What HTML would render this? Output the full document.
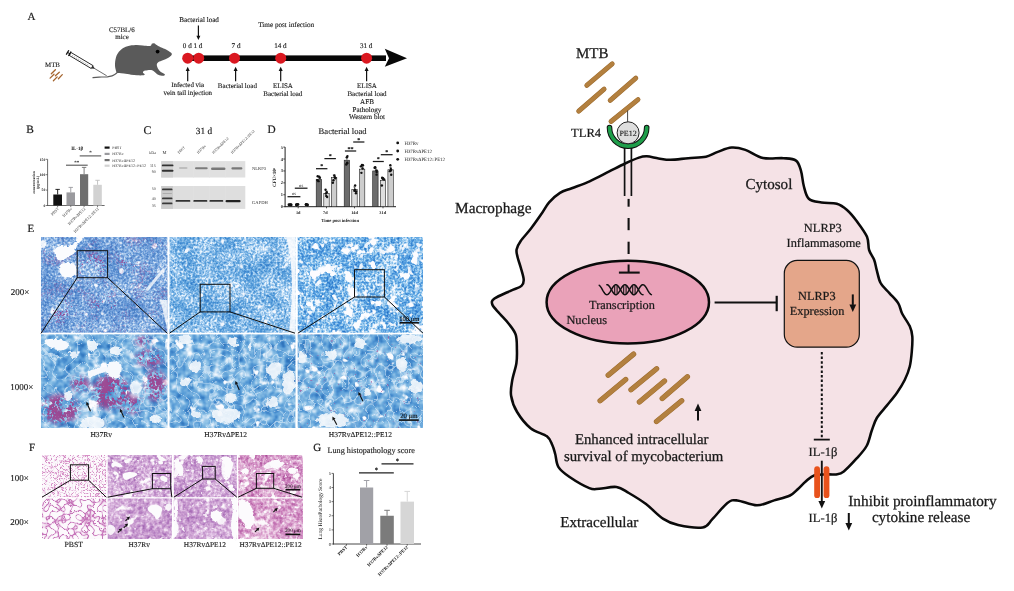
<!DOCTYPE html>
<html><head><meta charset="utf-8"><title>Figure</title><style>html,body{margin:0;padding:0;background:#fff;}body{width:1014px;height:591px;overflow:hidden;}svg{display:block;will-change:transform;text-rendering:geometricPrecision;}</style></head><body>
<svg width="1014" height="591" viewBox="0 0 1014 591" font-family="'Liberation Serif', 'Times New Roman', serif"><defs><filter id="bb" x="-20%" y="-100%" width="140%" height="300%"><feGaussianBlur stdDeviation="0.45"/></filter><filter id="soft" x="-20%" y="-20%" width="140%" height="140%"><feGaussianBlur stdDeviation="0.6"/></filter><filter id="rough2" x="-10%" y="-10%" width="120%" height="120%" color-interpolation-filters="sRGB"><feTurbulence type="fractalNoise" baseFrequency="0.3" numOctaves="2" seed="9" result="t"/><feDisplacementMap in="SourceGraphic" in2="t" scale="3.5" xChannelSelector="R" yChannelSelector="G" result="d"/><feGaussianBlur in="d" stdDeviation="0.35"/></filter><filter id="mblur" x="-20%" y="-20%" width="140%" height="140%"><feGaussianBlur stdDeviation="2.5"/></filter><filter id="tf1" x="0" y="0" width="1" height="1" color-interpolation-filters="sRGB"><feTurbulence type="fractalNoise" baseFrequency="0.05" numOctaves="2" seed="3" result="a0"/><feColorMatrix in="a0" type="matrix" values="1 0 0 0 0 1 0 0 0 0 1 0 0 0 0 0 0 0 0 1" result="a"/><feTurbulence type="fractalNoise" baseFrequency="0.45" numOctaves="2" seed="14" result="b0"/><feColorMatrix in="b0" type="matrix" values="1 0 0 0 0 1 0 0 0 0 1 0 0 0 0 0 0 0 0 1" result="b"/><feComposite in="a" in2="b" operator="arithmetic" k1="0" k2="0.45" k3="0.8" k4="-0.12" result="m"/><feComponentTransfer in="m"><feFuncR type="table" tableValues="0.2 0.22 0.26 0.31 0.38 0.48 0.61 0.76 0.9 0.97 1"/><feFuncG type="table" tableValues="0.39 0.42 0.46 0.52 0.58 0.65 0.75 0.85 0.93 0.98 1"/><feFuncB type="table" tableValues="0.71 0.73 0.76 0.79 0.83 0.87 0.91 0.95 0.98 1 1"/><feFuncA type="linear" slope="0" intercept="1"/></feComponentTransfer></filter><filter id="sf2" x="0" y="0" width="1" height="1" color-interpolation-filters="sRGB"><feTurbulence type="fractalNoise" baseFrequency="0.12" numOctaves="2" seed="71"/><feColorMatrix type="matrix" values="0 0 0 0 0.99 0 0 0 0 0.99 0 0 0 0 1 9 0 0 0 -6.3"/></filter><filter id="tf3" x="0" y="0" width="1" height="1" color-interpolation-filters="sRGB"><feTurbulence type="fractalNoise" baseFrequency="0.05" numOctaves="2" seed="8" result="a0"/><feColorMatrix in="a0" type="matrix" values="1 0 0 0 0 1 0 0 0 0 1 0 0 0 0 0 0 0 0 1" result="a"/><feTurbulence type="fractalNoise" baseFrequency="0.45" numOctaves="2" seed="19" result="b0"/><feColorMatrix in="b0" type="matrix" values="1 0 0 0 0 1 0 0 0 0 1 0 0 0 0 0 0 0 0 1" result="b"/><feComposite in="a" in2="b" operator="arithmetic" k1="0" k2="0.45" k3="0.8" k4="-0.11" result="m"/><feComponentTransfer in="m"><feFuncR type="table" tableValues="0.16 0.18 0.22 0.27 0.36 0.49 0.67 0.85 0.96 0.99 1"/><feFuncG type="table" tableValues="0.44 0.46 0.5 0.56 0.63 0.71 0.82 0.92 0.98 1 1"/><feFuncB type="table" tableValues="0.75 0.77 0.8 0.83 0.86 0.9 0.95 0.98 1 1 1"/><feFuncA type="linear" slope="0" intercept="1"/></feComponentTransfer></filter><filter id="sf4" x="0" y="0" width="1" height="1" color-interpolation-filters="sRGB"><feTurbulence type="fractalNoise" baseFrequency="0.11" numOctaves="2" seed="73"/><feColorMatrix type="matrix" values="0 0 0 0 0.99 0 0 0 0 0.99 0 0 0 0 1 10 0 0 0 -7"/></filter><filter id="tf5" x="0" y="0" width="1" height="1" color-interpolation-filters="sRGB"><feTurbulence type="fractalNoise" baseFrequency="0.05" numOctaves="2" seed="21" result="a0"/><feColorMatrix in="a0" type="matrix" values="1 0 0 0 0 1 0 0 0 0 1 0 0 0 0 0 0 0 0 1" result="a"/><feTurbulence type="fractalNoise" baseFrequency="0.45" numOctaves="2" seed="32" result="b0"/><feColorMatrix in="b0" type="matrix" values="1 0 0 0 0 1 0 0 0 0 1 0 0 0 0 0 0 0 0 1" result="b"/><feComposite in="a" in2="b" operator="arithmetic" k1="0" k2="0.45" k3="0.8" k4="-0.12" result="m"/><feComponentTransfer in="m"><feFuncR type="table" tableValues="0.11 0.13 0.16 0.23 0.32 0.46 0.67 0.87 0.96 0.99 1"/><feFuncG type="table" tableValues="0.39 0.42 0.46 0.53 0.61 0.71 0.83 0.93 0.98 1 1"/><feFuncB type="table" tableValues="0.75 0.76 0.79 0.83 0.87 0.91 0.95 0.98 1 1 1"/><feFuncA type="linear" slope="0" intercept="1"/></feComponentTransfer></filter><filter id="sf6" x="0" y="0" width="1" height="1" color-interpolation-filters="sRGB"><feTurbulence type="fractalNoise" baseFrequency="0.09" numOctaves="3" seed="75"/><feColorMatrix type="matrix" values="0 0 0 0 0.99 0 0 0 0 0.99 0 0 0 0 1 12 0 0 0 -7.1"/></filter><filter id="sf7" x="0" y="0" width="1" height="1" color-interpolation-filters="sRGB"><feTurbulence type="fractalNoise" baseFrequency="0.14" numOctaves="2" seed="76"/><feColorMatrix type="matrix" values="0 0 0 0 0.99 0 0 0 0 0.99 0 0 0 0 1 10 0 0 0 -6.3"/></filter><mask id="m1" maskUnits="userSpaceOnUse" x="41" y="237" width="127" height="96"><rect x="41" y="237" width="127" height="96" fill="#555"/><g filter="url(#mblur)" fill="#fff"><ellipse cx="93" cy="265" rx="14" ry="10"/><ellipse cx="60" cy="310" rx="14" ry="12"/><ellipse cx="130" cy="262" rx="10" ry="8"/><ellipse cx="105" cy="305" rx="12" ry="9"/></g></mask><filter id="sp8" x="0" y="0" width="1" height="1" color-interpolation-filters="sRGB"><feTurbulence type="fractalNoise" baseFrequency="0.06" numOctaves="2" seed="5" result="a0"/><feColorMatrix in="a0" type="matrix" values="1 0 0 0 0 1 0 0 0 0 1 0 0 0 0 0 0 0 0 1" result="a"/><feTurbulence type="fractalNoise" baseFrequency="0.55" numOctaves="2" seed="10" result="b0"/><feColorMatrix in="b0" type="matrix" values="1 0 0 0 0 1 0 0 0 0 1 0 0 0 0 0 0 0 0 1" result="b"/><feComposite in="a" in2="b" operator="arithmetic" k1="0" k2="0.5" k3="0.6" k4="0" result="m"/><feColorMatrix in="m" type="matrix" values="0 0 0 0 0.59 0 0 0 0 0.27 0 0 0 0 0.57 10 0 0 0 -6.2"/></filter><filter id="tf9" x="0" y="0" width="1" height="1" color-interpolation-filters="sRGB"><feTurbulence type="fractalNoise" baseFrequency="0.04" numOctaves="2" seed="13" result="a0"/><feColorMatrix in="a0" type="matrix" values="1 0 0 0 0 1 0 0 0 0 1 0 0 0 0 0 0 0 0 1" result="a"/><feTurbulence type="fractalNoise" baseFrequency="0.14" numOctaves="2" seed="24" result="b0"/><feColorMatrix in="b0" type="matrix" values="1 0 0 0 0 1 0 0 0 0 1 0 0 0 0 0 0 0 0 1" result="b"/><feComposite in="a" in2="b" operator="arithmetic" k1="0" k2="0.5" k3="1.1" k4="-0.3" result="m"/><feComponentTransfer in="m"><feFuncR type="table" tableValues="0.16 0.19 0.24 0.3 0.37 0.45 0.54 0.66 0.8 0.93 1"/><feFuncG type="table" tableValues="0.42 0.46 0.51 0.57 0.63 0.68 0.75 0.81 0.89 0.96 1"/><feFuncB type="table" tableValues="0.71 0.74 0.78 0.82 0.85 0.87 0.9 0.93 0.96 0.99 1"/><feFuncA type="linear" slope="0" intercept="1"/></feComponentTransfer></filter><filter id="cn10" x="0" y="0" width="1" height="1" color-interpolation-filters="sRGB"><feTurbulence type="turbulence" baseFrequency="0.09" numOctaves="1" seed="35"/><feColorMatrix type="matrix" values="0 0 0 0 0.92 0 0 0 0 0.96 0 0 0 0 0.99 -8.33 0 0 0 0.5"/></filter><filter id="sf11" x="0" y="0" width="1" height="1" color-interpolation-filters="sRGB"><feTurbulence type="fractalNoise" baseFrequency="0.08" numOctaves="3" seed="81"/><feColorMatrix type="matrix" values="0 0 0 0 0.99 0 0 0 0 0.99 0 0 0 0 1 10 0 0 0 -6.9"/></filter><mask id="m4" maskUnits="userSpaceOnUse" x="41" y="334" width="127" height="94"><g filter="url(#mblur)" fill="#fff"><ellipse cx="111" cy="392" rx="19" ry="17"/><ellipse cx="60" cy="409" rx="19" ry="14"/><ellipse cx="150" cy="358" rx="14" ry="8"/><ellipse cx="155" cy="385" rx="10" ry="16"/><ellipse cx="143" cy="341" rx="8" ry="4"/><ellipse cx="80" cy="384" rx="9" ry="7"/><ellipse cx="133" cy="405" rx="10" ry="8"/></g></mask><filter id="sp12" x="0" y="0" width="1" height="1" color-interpolation-filters="sRGB"><feTurbulence type="fractalNoise" baseFrequency="0.08" numOctaves="2" seed="17" result="a0"/><feColorMatrix in="a0" type="matrix" values="1 0 0 0 0 1 0 0 0 0 1 0 0 0 0 0 0 0 0 1" result="a"/><feTurbulence type="fractalNoise" baseFrequency="0.4" numOctaves="2" seed="22" result="b0"/><feColorMatrix in="b0" type="matrix" values="1 0 0 0 0 1 0 0 0 0 1 0 0 0 0 0 0 0 0 1" result="b"/><feComposite in="a" in2="b" operator="arithmetic" k1="0" k2="0.55" k3="0.55" k4="0" result="m"/><feColorMatrix in="m" type="matrix" values="0 0 0 0 0.61 0 0 0 0 0.27 0 0 0 0 0.57 9 0 0 0 -4.3"/></filter><filter id="tf13" x="0" y="0" width="1" height="1" color-interpolation-filters="sRGB"><feTurbulence type="fractalNoise" baseFrequency="0.04" numOctaves="2" seed="29" result="a0"/><feColorMatrix in="a0" type="matrix" values="1 0 0 0 0 1 0 0 0 0 1 0 0 0 0 0 0 0 0 1" result="a"/><feTurbulence type="fractalNoise" baseFrequency="0.14" numOctaves="2" seed="40" result="b0"/><feColorMatrix in="b0" type="matrix" values="1 0 0 0 0 1 0 0 0 0 1 0 0 0 0 0 0 0 0 1" result="b"/><feComposite in="a" in2="b" operator="arithmetic" k1="0" k2="0.5" k3="1.1" k4="-0.3" result="m"/><feComponentTransfer in="m"><feFuncR type="table" tableValues="0.16 0.19 0.24 0.3 0.37 0.45 0.54 0.66 0.8 0.93 1"/><feFuncG type="table" tableValues="0.42 0.46 0.51 0.57 0.63 0.68 0.75 0.81 0.89 0.96 1"/><feFuncB type="table" tableValues="0.71 0.74 0.78 0.82 0.85 0.87 0.9 0.93 0.96 0.99 1"/><feFuncA type="linear" slope="0" intercept="1"/></feComponentTransfer></filter><filter id="cn14" x="0" y="0" width="1" height="1" color-interpolation-filters="sRGB"><feTurbulence type="turbulence" baseFrequency="0.09" numOctaves="1" seed="31"/><feColorMatrix type="matrix" values="0 0 0 0 0.92 0 0 0 0 0.96 0 0 0 0 0.99 -8.33 0 0 0 0.5"/></filter><filter id="sf15" x="0" y="0" width="1" height="1" color-interpolation-filters="sRGB"><feTurbulence type="fractalNoise" baseFrequency="0.08" numOctaves="3" seed="83"/><feColorMatrix type="matrix" values="0 0 0 0 0.99 0 0 0 0 0.99 0 0 0 0 1 10 0 0 0 -6.8"/></filter><filter id="tf16" x="0" y="0" width="1" height="1" color-interpolation-filters="sRGB"><feTurbulence type="fractalNoise" baseFrequency="0.04" numOctaves="2" seed="37" result="a0"/><feColorMatrix in="a0" type="matrix" values="1 0 0 0 0 1 0 0 0 0 1 0 0 0 0 0 0 0 0 1" result="a"/><feTurbulence type="fractalNoise" baseFrequency="0.14" numOctaves="2" seed="48" result="b0"/><feColorMatrix in="b0" type="matrix" values="1 0 0 0 0 1 0 0 0 0 1 0 0 0 0 0 0 0 0 1" result="b"/><feComposite in="a" in2="b" operator="arithmetic" k1="0" k2="0.5" k3="1.1" k4="-0.3" result="m"/><feComponentTransfer in="m"><feFuncR type="table" tableValues="0.16 0.19 0.24 0.3 0.37 0.45 0.54 0.66 0.8 0.93 1"/><feFuncG type="table" tableValues="0.42 0.46 0.51 0.57 0.63 0.68 0.75 0.81 0.89 0.96 1"/><feFuncB type="table" tableValues="0.71 0.74 0.78 0.82 0.85 0.87 0.9 0.93 0.96 0.99 1"/><feFuncA type="linear" slope="0" intercept="1"/></feComponentTransfer></filter><filter id="cn17" x="0" y="0" width="1" height="1" color-interpolation-filters="sRGB"><feTurbulence type="turbulence" baseFrequency="0.09" numOctaves="1" seed="33"/><feColorMatrix type="matrix" values="0 0 0 0 0.92 0 0 0 0 0.96 0 0 0 0 0.99 -8.33 0 0 0 0.5"/></filter><filter id="sf18" x="0" y="0" width="1" height="1" color-interpolation-filters="sRGB"><feTurbulence type="fractalNoise" baseFrequency="0.08" numOctaves="3" seed="85"/><feColorMatrix type="matrix" values="0 0 0 0 0.99 0 0 0 0 0.99 0 0 0 0 1 10 0 0 0 -6.8"/></filter><filter id="sf19" x="0" y="0" width="1" height="1" color-interpolation-filters="sRGB"><feTurbulence type="fractalNoise" baseFrequency="0.3" numOctaves="2" seed="41"/><feColorMatrix type="matrix" values="0 0 0 0 0.67 0 0 0 0 0.31 0 0 0 0 0.59 12 0 0 0 -8.9"/></filter><filter id="rough" x="-10%" y="-10%" width="120%" height="120%" color-interpolation-filters="sRGB"><feTurbulence type="fractalNoise" baseFrequency="0.18" numOctaves="2" seed="4" result="t"/><feDisplacementMap in="SourceGraphic" in2="t" scale="7" xChannelSelector="R" yChannelSelector="G" result="d"/><feGaussianBlur in="d" stdDeviation="0.5"/></filter><filter id="nf20" x="0" y="0" width="1" height="1" color-interpolation-filters="sRGB"><feTurbulence type="turbulence" baseFrequency="0.33" numOctaves="1" seed="51"/><feColorMatrix type="matrix" values="1 0 0 0 0 1 0 0 0 0 1 0 0 0 0 0 0 0 0 1"/><feComponentTransfer><feFuncR type="table" tableValues="0.84 0.92 0.96 0.98 0.99 0.99 0.99 0.99 0.99 0.99 0.99 0.99 0.99 0.99 0.99 0.99 0.99 0.99 0.99 0.99 0.99"/><feFuncG type="table" tableValues="0.57 0.76 0.91 0.96 0.98 0.98 0.98 0.98 0.98 0.98 0.98 0.98 0.98 0.98 0.98 0.98 0.98 0.98 0.98 0.98 0.98"/><feFuncB type="table" tableValues="0.78 0.89 0.95 0.98 0.99 0.99 0.99 0.99 0.99 0.99 0.99 0.99 0.99 0.99 0.99 0.99 0.99 0.99 0.99 0.99 0.99"/></feComponentTransfer></filter><filter id="tf21" x="0" y="0" width="1" height="1" color-interpolation-filters="sRGB"><feTurbulence type="fractalNoise" baseFrequency="0.05" numOctaves="2" seed="53" result="a0"/><feColorMatrix in="a0" type="matrix" values="1 0 0 0 0 1 0 0 0 0 1 0 0 0 0 0 0 0 0 1" result="a"/><feTurbulence type="fractalNoise" baseFrequency="0.35" numOctaves="2" seed="64" result="b0"/><feColorMatrix in="b0" type="matrix" values="1 0 0 0 0 1 0 0 0 0 1 0 0 0 0 0 0 0 0 1" result="b"/><feComposite in="a" in2="b" operator="arithmetic" k1="0" k2="0.45" k3="0.8" k4="-0.12" result="m"/><feComponentTransfer in="m"><feFuncR type="table" tableValues="0.53 0.58 0.64 0.7 0.75 0.81 0.86 0.92 0.96 0.99 1"/><feFuncG type="table" tableValues="0.31 0.35 0.41 0.48 0.56 0.64 0.73 0.82 0.92 0.98 1"/><feFuncB type="table" tableValues="0.63 0.66 0.7 0.75 0.79 0.83 0.88 0.93 0.96 0.99 1"/><feFuncA type="linear" slope="0" intercept="1"/></feComponentTransfer></filter><filter id="sf22" x="0" y="0" width="1" height="1" color-interpolation-filters="sRGB"><feTurbulence type="fractalNoise" baseFrequency="0.09" numOctaves="3" seed="92"/><feColorMatrix type="matrix" values="0 0 0 0 0.99 0 0 0 0 0.98 0 0 0 0 0.99 12 0 0 0 -7.9"/></filter><filter id="sf23" x="0" y="0" width="1" height="1" color-interpolation-filters="sRGB"><feTurbulence type="fractalNoise" baseFrequency="0.32" numOctaves="2" seed="132"/><feColorMatrix type="matrix" values="0 0 0 0 0.98 0 0 0 0 0.96 0 0 0 0 0.98 9 0 0 0 -5.9"/></filter><filter id="tf24" x="0" y="0" width="1" height="1" color-interpolation-filters="sRGB"><feTurbulence type="fractalNoise" baseFrequency="0.05" numOctaves="2" seed="57" result="a0"/><feColorMatrix in="a0" type="matrix" values="1 0 0 0 0 1 0 0 0 0 1 0 0 0 0 0 0 0 0 1" result="a"/><feTurbulence type="fractalNoise" baseFrequency="0.35" numOctaves="2" seed="68" result="b0"/><feColorMatrix in="b0" type="matrix" values="1 0 0 0 0 1 0 0 0 0 1 0 0 0 0 0 0 0 0 1" result="b"/><feComposite in="a" in2="b" operator="arithmetic" k1="0" k2="0.45" k3="0.8" k4="-0.12" result="m"/><feComponentTransfer in="m"><feFuncR type="table" tableValues="0.53 0.58 0.64 0.7 0.75 0.81 0.86 0.92 0.96 0.99 1"/><feFuncG type="table" tableValues="0.31 0.35 0.41 0.48 0.56 0.64 0.73 0.82 0.92 0.98 1"/><feFuncB type="table" tableValues="0.63 0.66 0.7 0.75 0.79 0.83 0.88 0.93 0.96 0.99 1"/><feFuncA type="linear" slope="0" intercept="1"/></feComponentTransfer></filter><filter id="sf25" x="0" y="0" width="1" height="1" color-interpolation-filters="sRGB"><feTurbulence type="fractalNoise" baseFrequency="0.08" numOctaves="3" seed="93"/><feColorMatrix type="matrix" values="0 0 0 0 0.99 0 0 0 0 0.98 0 0 0 0 0.99 12 0 0 0 -7.8"/></filter><filter id="sf26" x="0" y="0" width="1" height="1" color-interpolation-filters="sRGB"><feTurbulence type="fractalNoise" baseFrequency="0.32" numOctaves="2" seed="133"/><feColorMatrix type="matrix" values="0 0 0 0 0.98 0 0 0 0 0.96 0 0 0 0 0.98 9 0 0 0 -5.9"/></filter><filter id="tf27" x="0" y="0" width="1" height="1" color-interpolation-filters="sRGB"><feTurbulence type="fractalNoise" baseFrequency="0.06" numOctaves="2" seed="59" result="a0"/><feColorMatrix in="a0" type="matrix" values="1 0 0 0 0 1 0 0 0 0 1 0 0 0 0 0 0 0 0 1" result="a"/><feTurbulence type="fractalNoise" baseFrequency="0.35" numOctaves="2" seed="70" result="b0"/><feColorMatrix in="b0" type="matrix" values="1 0 0 0 0 1 0 0 0 0 1 0 0 0 0 0 0 0 0 1" result="b"/><feComposite in="a" in2="b" operator="arithmetic" k1="0" k2="0.45" k3="0.8" k4="-0.12" result="m"/><feComponentTransfer in="m"><feFuncR type="table" tableValues="0.59 0.64 0.7 0.75 0.8 0.85 0.89 0.94 0.97 0.99 1"/><feFuncG type="table" tableValues="0.22 0.27 0.35 0.43 0.52 0.62 0.72 0.82 0.93 0.98 1"/><feFuncB type="table" tableValues="0.53 0.57 0.63 0.69 0.74 0.8 0.85 0.91 0.96 0.99 1"/><feFuncA type="linear" slope="0" intercept="1"/></feComponentTransfer></filter><filter id="sf28" x="0" y="0" width="1" height="1" color-interpolation-filters="sRGB"><feTurbulence type="fractalNoise" baseFrequency="0.1" numOctaves="3" seed="94"/><feColorMatrix type="matrix" values="0 0 0 0 0.99 0 0 0 0 0.98 0 0 0 0 0.99 11 0 0 0 -7"/></filter><filter id="sf29" x="0" y="0" width="1" height="1" color-interpolation-filters="sRGB"><feTurbulence type="fractalNoise" baseFrequency="0.32" numOctaves="2" seed="134"/><feColorMatrix type="matrix" values="0 0 0 0 0.98 0 0 0 0 0.96 0 0 0 0 0.98 9 0 0 0 -5.9"/></filter><filter id="nf30" x="0" y="0" width="1" height="1" color-interpolation-filters="sRGB"><feTurbulence type="turbulence" baseFrequency="0.17" numOctaves="1" seed="52"/><feColorMatrix type="matrix" values="1 0 0 0 0 1 0 0 0 0 1 0 0 0 0 0 0 0 0 1"/><feComponentTransfer><feFuncR type="table" tableValues="0.78 0.87 0.94 0.98 0.99 0.99 0.99 0.99 0.99 0.99 0.99 0.99 0.99 0.99 0.99 0.99 0.99 0.99 0.99 0.99 0.99"/><feFuncG type="table" tableValues="0.47 0.67 0.85 0.95 0.98 0.98 0.98 0.98 0.98 0.98 0.98 0.98 0.98 0.98 0.98 0.98 0.98 0.98 0.98 0.98 0.98"/><feFuncB type="table" tableValues="0.73 0.84 0.93 0.97 0.99 0.99 0.99 0.99 0.99 0.99 0.99 0.99 0.99 0.99 0.99 0.99 0.99 0.99 0.99 0.99 0.99"/></feComponentTransfer></filter><filter id="tf31" x="0" y="0" width="1" height="1" color-interpolation-filters="sRGB"><feTurbulence type="fractalNoise" baseFrequency="0.04" numOctaves="2" seed="63" result="a0"/><feColorMatrix in="a0" type="matrix" values="1 0 0 0 0 1 0 0 0 0 1 0 0 0 0 0 0 0 0 1" result="a"/><feTurbulence type="fractalNoise" baseFrequency="0.28" numOctaves="2" seed="74" result="b0"/><feColorMatrix in="b0" type="matrix" values="1 0 0 0 0 1 0 0 0 0 1 0 0 0 0 0 0 0 0 1" result="b"/><feComposite in="a" in2="b" operator="arithmetic" k1="0" k2="0.45" k3="0.8" k4="-0.12" result="m"/><feComponentTransfer in="m"><feFuncR type="table" tableValues="0.53 0.58 0.64 0.7 0.75 0.81 0.86 0.92 0.96 0.99 1"/><feFuncG type="table" tableValues="0.31 0.35 0.41 0.48 0.56 0.64 0.73 0.82 0.92 0.98 1"/><feFuncB type="table" tableValues="0.63 0.66 0.7 0.75 0.79 0.83 0.88 0.93 0.96 0.99 1"/><feFuncA type="linear" slope="0" intercept="1"/></feComponentTransfer></filter><filter id="sf32" x="0" y="0" width="1" height="1" color-interpolation-filters="sRGB"><feTurbulence type="fractalNoise" baseFrequency="0.08" numOctaves="3" seed="96"/><feColorMatrix type="matrix" values="0 0 0 0 0.99 0 0 0 0 0.98 0 0 0 0 0.99 12 0 0 0 -8"/></filter><filter id="sf33" x="0" y="0" width="1" height="1" color-interpolation-filters="sRGB"><feTurbulence type="fractalNoise" baseFrequency="0.22" numOctaves="2" seed="136"/><feColorMatrix type="matrix" values="0 0 0 0 0.98 0 0 0 0 0.96 0 0 0 0 0.98 9 0 0 0 -5.9"/></filter><filter id="tf34" x="0" y="0" width="1" height="1" color-interpolation-filters="sRGB"><feTurbulence type="fractalNoise" baseFrequency="0.04" numOctaves="2" seed="67" result="a0"/><feColorMatrix in="a0" type="matrix" values="1 0 0 0 0 1 0 0 0 0 1 0 0 0 0 0 0 0 0 1" result="a"/><feTurbulence type="fractalNoise" baseFrequency="0.3" numOctaves="2" seed="78" result="b0"/><feColorMatrix in="b0" type="matrix" values="1 0 0 0 0 1 0 0 0 0 1 0 0 0 0 0 0 0 0 1" result="b"/><feComposite in="a" in2="b" operator="arithmetic" k1="0" k2="0.45" k3="0.8" k4="-0.12" result="m"/><feComponentTransfer in="m"><feFuncR type="table" tableValues="0.53 0.58 0.64 0.7 0.75 0.81 0.86 0.92 0.96 0.99 1"/><feFuncG type="table" tableValues="0.31 0.35 0.41 0.48 0.56 0.64 0.73 0.82 0.92 0.98 1"/><feFuncB type="table" tableValues="0.63 0.66 0.7 0.75 0.79 0.83 0.88 0.93 0.96 0.99 1"/><feFuncA type="linear" slope="0" intercept="1"/></feComponentTransfer></filter><filter id="sf35" x="0" y="0" width="1" height="1" color-interpolation-filters="sRGB"><feTurbulence type="fractalNoise" baseFrequency="0.08" numOctaves="3" seed="97"/><feColorMatrix type="matrix" values="0 0 0 0 0.99 0 0 0 0 0.98 0 0 0 0 0.99 12 0 0 0 -8"/></filter><filter id="sf36" x="0" y="0" width="1" height="1" color-interpolation-filters="sRGB"><feTurbulence type="fractalNoise" baseFrequency="0.22" numOctaves="2" seed="137"/><feColorMatrix type="matrix" values="0 0 0 0 0.98 0 0 0 0 0.96 0 0 0 0 0.98 9 0 0 0 -5.9"/></filter><filter id="tf37" x="0" y="0" width="1" height="1" color-interpolation-filters="sRGB"><feTurbulence type="fractalNoise" baseFrequency="0.04" numOctaves="2" seed="69" result="a0"/><feColorMatrix in="a0" type="matrix" values="1 0 0 0 0 1 0 0 0 0 1 0 0 0 0 0 0 0 0 1" result="a"/><feTurbulence type="fractalNoise" baseFrequency="0.3" numOctaves="2" seed="80" result="b0"/><feColorMatrix in="b0" type="matrix" values="1 0 0 0 0 1 0 0 0 0 1 0 0 0 0 0 0 0 0 1" result="b"/><feComposite in="a" in2="b" operator="arithmetic" k1="0" k2="0.45" k3="0.8" k4="-0.12" result="m"/><feComponentTransfer in="m"><feFuncR type="table" tableValues="0.59 0.64 0.7 0.75 0.8 0.85 0.89 0.94 0.97 0.99 1"/><feFuncG type="table" tableValues="0.22 0.27 0.35 0.43 0.52 0.62 0.72 0.82 0.93 0.98 1"/><feFuncB type="table" tableValues="0.53 0.57 0.63 0.69 0.74 0.8 0.85 0.91 0.96 0.99 1"/><feFuncA type="linear" slope="0" intercept="1"/></feComponentTransfer></filter><filter id="sf38" x="0" y="0" width="1" height="1" color-interpolation-filters="sRGB"><feTurbulence type="fractalNoise" baseFrequency="0.1" numOctaves="3" seed="98"/><feColorMatrix type="matrix" values="0 0 0 0 0.99 0 0 0 0 0.98 0 0 0 0 0.99 10 0 0 0 -6.6"/></filter><filter id="sf39" x="0" y="0" width="1" height="1" color-interpolation-filters="sRGB"><feTurbulence type="fractalNoise" baseFrequency="0.22" numOctaves="2" seed="138"/><feColorMatrix type="matrix" values="0 0 0 0 0.98 0 0 0 0 0.96 0 0 0 0 0.98 9 0 0 0 -5.9"/></filter></defs><path d="M511.1,395.7 C511.92,400.95 513.85,406.58 517.1,412 C520.35,417.42 525.63,424.15 530.6,428.2 C535.57,432.25 543.28,433.5 546.9,436.3 C550.52,439.1 550.92,442.05 552.3,445 C553.68,447.95 554.17,450.32 555.2,454 C556.23,457.68 556.1,463.27 558.5,467.1 C560.9,470.93 564.47,473.5 569.6,477 C574.73,480.5 584.37,486.13 589.3,488.1 C594.23,490.07 594.68,488.98 599.2,488.8 C603.72,488.62 611.47,486.3 616.4,487 C621.33,487.7 623.87,490.15 628.8,493 C633.73,495.85 640.25,499.78 646,504.1 C651.75,508.42 657.95,515.4 663.3,518.9 C668.65,522.4 671.53,523.67 678.1,525.1 C684.67,526.53 696.95,528.53 702.7,527.5 C708.45,526.47 708.48,523 712.6,518.9 C716.72,514.8 723.3,505.98 727.4,502.9 C731.5,499.82 732.27,500 737.2,500.4 C742.13,500.8 750.83,505.3 757,505.3 C763.17,505.3 768.7,502.03 774.2,500.4 C779.7,498.77 786.03,497.4 790,495.5 C793.97,493.6 795.38,491.33 798,489 C800.62,486.67 802.93,483.8 805.7,481.5 C808.47,479.2 810.8,476.38 814.6,475.2 C818.4,474.02 824.92,474.53 828.5,474.4 C832.08,474.27 833.55,474.9 836.1,474.4 C838.65,473.9 840.42,474.02 843.8,471.4 C847.18,468.78 852.6,462.93 856.4,458.7 C860.2,454.47 864.05,450.65 866.6,446 C869.15,441.35 870,435.47 871.7,430.8 C873.4,426.13 874.25,422.23 876.8,418 C879.35,413.77 883.63,409.62 887,405.4 C890.37,401.18 894.05,396.93 897,392.7 C899.95,388.47 902.58,384.32 904.7,380 C906.82,375.68 908.52,371.55 909.7,366.8 C910.88,362.05 911.37,356.58 911.8,351.5 C912.23,346.42 912.65,340.53 912.3,336.3 C911.95,332.07 911.4,329.9 909.7,326.1 C908,322.3 904,317.3 902.1,313.5 C900.2,309.7 900.42,306.7 898.3,303.3 C896.18,299.9 892.35,296.48 889.4,293.1 C886.45,289.72 882.7,286.8 880.6,283 C878.5,279.2 877.87,274.13 876.8,270.3 C875.73,266.47 875.48,263.38 874.2,260 C872.92,256.62 870.3,253.87 869.1,250 C867.9,246.13 869.02,241.55 867,236.8 C864.98,232.05 860.33,225.97 857,221.5 C853.67,217.03 850.37,212.95 847,210 C843.63,207.05 841.05,205.05 836.8,203.8 C832.55,202.55 826.17,203.35 821.5,202.5 C816.83,201.65 811.75,201.45 808.8,198.7 C805.85,195.95 805.1,190.65 803.8,186 C802.5,181.35 802.3,175.03 801,170.8 C799.7,166.57 798.92,162.7 796,160.6 C793.08,158.5 789,158.63 783.5,158.2 C778,157.77 769.35,159.38 763,158 C756.65,156.62 750.63,151.63 745.4,149.9 C740.17,148.17 736.2,147.27 731.6,147.6 C727,147.93 722.07,150.37 717.8,151.9 C713.53,153.43 710.93,155.75 706,156.8 C701.07,157.85 694.12,157.7 688.2,158.2 C682.28,158.7 675.43,159.77 670.5,159.8 C665.57,159.83 662.55,158.98 658.6,158.4 C654.65,157.82 650.08,156.43 646.8,156.3 C643.52,156.17 642.52,156.4 638.9,157.6 C635.28,158.8 630.03,161.2 625.1,163.5 C620.17,165.8 615.22,168.43 609.3,171.4 C603.38,174.37 595.85,178.5 589.6,181.3 C583.35,184.1 576.73,186.27 571.8,188.2 C566.87,190.13 563.78,190.53 560,192.9 C556.22,195.27 552.27,198.78 549.1,202.4 C545.93,206.02 544.05,210.2 541,214.6 C537.95,219 534.18,224.4 530.8,228.8 C527.42,233.2 523.07,237.55 520.7,241 C518.33,244.45 517.12,246.8 516.6,249.5 C516.08,252.2 516.92,254.22 517.6,257.2 C518.28,260.18 519.68,263.67 520.7,267.4 C521.72,271.13 523.57,276.52 523.7,279.6 C523.83,282.68 523.7,284.03 521.5,285.9 C519.3,287.77 515,288.68 510.5,290.8 C506,292.92 497.53,296.32 494.5,298.6 C491.47,300.88 491.47,302.02 492.3,304.5 C493.13,306.98 496.8,310.33 499.5,313.5 C502.2,316.67 505.8,319.97 508.5,323.5 C511.2,327.03 514.3,330.37 515.7,334.7 C517.1,339.03 516.78,344.75 516.9,349.5 C517.02,354.25 517.18,358.03 516.4,363.2 C515.62,368.37 513.08,375.08 512.2,380.5 C511.32,385.92 510.28,390.45 511.1,395.7Z" fill="#F5E2E6" stroke="#0a0a0a" stroke-width="2.55" stroke-linejoin="round"/>
<text x="576" y="57.9" font-size="15" text-anchor="start" fill="#1a1a1a"  stroke="#1a1a1a" stroke-width="0.27">MTB</text>
<text x="571" y="137.1" font-size="12.6" text-anchor="start" fill="#1a1a1a"  stroke="#1a1a1a" stroke-width="0.23">TLR4</text>
<text x="455.1" y="212.9" font-size="15.3" text-anchor="start" fill="#1a1a1a"  stroke="#1a1a1a" stroke-width="0.28">Macrophage</text>
<text x="745.4" y="188.5" font-size="15.1" text-anchor="start" fill="#1a1a1a"  stroke="#1a1a1a" stroke-width="0.27">Cytosol</text>
<text x="822.8" y="231.7" font-size="12.4" text-anchor="middle" fill="#1a1a1a"  stroke="#1a1a1a" stroke-width="0.22">NLRP3</text>
<text x="823.7" y="246.9" font-size="12.4" text-anchor="middle" fill="#1a1a1a"  stroke="#1a1a1a" stroke-width="0.22">Inflammasome</text>
<line x1="586.8" y1="85.3" x2="612.2" y2="63.8" stroke="#9C6A2E" stroke-width="4.9" stroke-linecap="round"/>
<line x1="586.8" y1="85.3" x2="612.2" y2="63.8" stroke="#B3803F" stroke-width="3.9" stroke-linecap="round"/>
<line x1="578.7" y1="111.2" x2="604.1" y2="89.1" stroke="#9C6A2E" stroke-width="4.9" stroke-linecap="round"/>
<line x1="578.7" y1="111.2" x2="604.1" y2="89.1" stroke="#B3803F" stroke-width="3.9" stroke-linecap="round"/>
<line x1="610.2" y1="100.3" x2="635.8" y2="78.2" stroke="#9C6A2E" stroke-width="4.9" stroke-linecap="round"/>
<line x1="610.2" y1="100.3" x2="635.8" y2="78.2" stroke="#B3803F" stroke-width="3.9" stroke-linecap="round"/>
<line x1="611" y1="121.5" x2="638" y2="99.6" stroke="#9C6A2E" stroke-width="4.9" stroke-linecap="round"/>
<line x1="611" y1="121.5" x2="638" y2="99.6" stroke="#B3803F" stroke-width="3.9" stroke-linecap="round"/>
<line x1="627.6" y1="110.5" x2="627.6" y2="122" stroke="#333" stroke-width="0.9" />
<line x1="624.6" y1="147" x2="624.6" y2="196" stroke="#111" stroke-width="1.7" />
<line x1="631.4" y1="147" x2="631.4" y2="196" stroke="#111" stroke-width="1.7" />
<line x1="628.6" y1="198.9" x2="628.6" y2="206.7" stroke="#111" stroke-width="2.1" />
<line x1="628.6" y1="218" x2="628.6" y2="230.2" stroke="#111" stroke-width="2.1" />
<line x1="628.6" y1="241.7" x2="628.6" y2="254" stroke="#111" stroke-width="2.1" />
<path d="M609.5,127.5 A18.6,18.6 0 0 0 646.7,127.5" fill="none" stroke="#111" stroke-width="5.6" stroke-linecap="round"/>
<path d="M609.5,127.5 A18.6,18.6 0 0 0 646.7,127.5" fill="none" stroke="#1E9E4A" stroke-width="3.6" stroke-linecap="round"/>
<circle cx="628.1" cy="132.8" r="11" fill="#DEDEDE" stroke="#222" stroke-width="1"/>
<text x="628.1" y="135.6" font-size="8" text-anchor="middle" fill="#222"  stroke="#222" stroke-width="0.13">PE12</text>
<ellipse cx="627.8" cy="302.2" rx="81.2" ry="41.4" fill="#EAA2B9" stroke="#0a0a0a" stroke-width="2.5"/>
<line x1="628.6" y1="264.5" x2="628.6" y2="272.6" stroke="#111" stroke-width="2" />
<line x1="618.9" y1="272.6" x2="639.7" y2="272.6" stroke="#111" stroke-width="2.1" />
<path d="M599.2,285.21 L599.75,285.7 L600.3,286.35 L600.84,287.11 L601.39,287.97 L601.94,288.9 L602.49,289.85 L603.03,290.79 L603.58,291.7 L604.13,292.54 L604.68,293.27 L605.22,293.87 L605.77,294.32 L606.32,294.6 L606.87,294.7 L607.41,294.62 L607.96,294.36 L608.51,293.93 L609.06,293.35 L609.6,292.64 L610.15,291.81 L610.7,290.91 L611.25,289.97 L611.79,289.02 L612.34,288.09 L612.89,287.22 L613.44,286.44 L613.98,285.78 L614.53,285.26 L615.08,284.9 L615.62,284.72 L616.17,284.72 L616.72,284.9 L617.27,285.26 L617.82,285.78 L618.36,286.44 L618.91,287.22 L619.46,288.08 L620,289.01 L620.55,289.97 L621.1,290.91 L621.65,291.81 L622.2,292.63 L622.74,293.35 L623.29,293.93 L623.84,294.36 L624.38,294.62 L624.93,294.7 L625.48,294.6 L626.03,294.32 L626.58,293.87 L627.12,293.27 L627.67,292.54 L628.22,291.71 L628.76,290.8 L629.31,289.85 L629.86,288.9 L630.41,287.98 L630.96,287.12 L631.5,286.35 L632.05,285.71 L632.6,285.21 L633.14,284.87 L633.69,284.71 L634.24,284.74 L634.79,284.94 L635.34,285.31 L635.88,285.85 L636.43,286.53 L636.98,287.32 L637.52,288.2 L638.07,289.13 L638.62,290.08 L639.17,291.02 L639.72,291.92 L640.26,292.73 L640.81,293.43 L641.36,293.99 L641.9,294.4 L642.45,294.64 L643,294.7" fill="none" stroke="#111" stroke-width="1.5" stroke-linecap="round"/>
<path d="M606.8,284.7 L607.36,284.76 L607.91,285.01 L608.47,285.43 L609.03,286.02 L609.59,286.74 L610.14,287.58 L610.7,288.49 L611.26,289.46 L611.82,290.43 L612.38,291.37 L612.93,292.25 L613.49,293.03 L614.05,293.69 L614.6,294.2 L615.16,294.54 L615.72,294.69 L616.28,294.66 L616.83,294.44 L617.39,294.04 L617.95,293.47 L618.51,292.77 L619.06,291.95 L619.62,291.04 L620.18,290.08 L620.74,289.11 L621.29,288.16 L621.85,287.27 L622.41,286.47 L622.97,285.8 L623.52,285.26 L624.08,284.9 L624.64,284.72 L625.2,284.73 L625.75,284.92 L626.31,285.3 L626.87,285.84 L627.43,286.52 L627.99,287.33 L628.54,288.23 L629.1,289.18 L629.66,290.15 L630.21,291.1 L630.77,292 L631.33,292.82 L631.89,293.52 L632.44,294.07 L633,294.46 L633.56,294.66 L634.12,294.69 L634.67,294.52 L635.23,294.17 L635.79,293.65 L636.35,292.98 L636.9,292.19 L637.46,291.31 L638.02,290.36 L638.58,289.39 L639.13,288.43 L639.69,287.52 L640.25,286.69 L640.81,285.98 L641.37,285.4 L641.92,284.99 L642.48,284.75 L643.04,284.71 L643.6,284.85 L644.15,285.17 L644.71,285.67 L645.27,286.31 L645.82,287.09 L646.38,287.96 L646.94,288.9 L647.5,289.87 L648.05,290.83 L648.61,291.75 L649.17,292.6 L649.73,293.33 L650.28,293.93 L650.84,294.36 L651.4,294.62" fill="none" stroke="#111" stroke-width="1.5" stroke-linecap="round"/>
<line x1="614.7" y1="285.4" x2="614.7" y2="294" stroke="#111" stroke-width="1.1" />
<line x1="617.1" y1="285.4" x2="617.1" y2="294" stroke="#111" stroke-width="1.1" />
<line x1="623.7" y1="285.4" x2="623.7" y2="294" stroke="#111" stroke-width="1.1" />
<line x1="626.1" y1="285.4" x2="626.1" y2="294" stroke="#111" stroke-width="1.1" />
<line x1="632.7" y1="285.4" x2="632.7" y2="294" stroke="#111" stroke-width="1.1" />
<line x1="635.1" y1="285.4" x2="635.1" y2="294" stroke="#111" stroke-width="1.1" />
<text x="622" y="308.5" font-size="12.3" text-anchor="middle" fill="#1a1a1a"  stroke="#1a1a1a" stroke-width="0.22">Transcription</text>
<text x="566.4" y="324.4" font-size="12.4" text-anchor="start" fill="#1a1a1a"  stroke="#1a1a1a" stroke-width="0.22">Nucleus</text>
<line x1="714.6" y1="302.6" x2="776.7" y2="302.6" stroke="#111" stroke-width="2" />
<line x1="776.7" y1="295.8" x2="776.7" y2="311.2" stroke="#111" stroke-width="2.2" />
<rect x="784.3" y="260.4" width="75" height="86.8" rx="13" ry="13" fill="#E4A68A" stroke="#111" stroke-width="1.2"/>
<text x="816.8" y="300" font-size="12.3" text-anchor="middle" fill="#1a1a1a"  stroke="#1a1a1a" stroke-width="0.22">NLRP3</text>
<text x="817.1" y="314.7" font-size="12.3" text-anchor="middle" fill="#1a1a1a"  stroke="#1a1a1a" stroke-width="0.22">Expression</text>
<line x1="852.8" y1="294.4" x2="852.8" y2="304.9" stroke="#111" stroke-width="2" />
<path d="M852.8,311.9 L849.4,304.4 L856.2,304.4 Z" fill="#111"/>
<line x1="821.8" y1="352" x2="821.8" y2="438" stroke="#111" stroke-width="2" stroke-dasharray="2.5,2.1"/>
<line x1="813.8" y1="439.6" x2="829.8" y2="439.6" stroke="#111" stroke-width="1.8" />
<text x="823" y="456.1" font-size="12.6" text-anchor="middle" fill="#1a1a1a"  stroke="#1a1a1a" stroke-width="0.23">IL-1β</text>
<rect x="814.2" y="466.3" width="5.8" height="31.8" rx="2.9" fill="#E8521C"/>
<rect x="823.6" y="466.3" width="5.8" height="31.8" rx="2.9" fill="#E8521C"/>
<line x1="821.8" y1="460.7" x2="821.8" y2="501.4" stroke="#111" stroke-width="1.9" />
<path d="M821.8,508.4 L818.4,500.9 L825.2,500.9 Z" fill="#111"/>
<text x="823" y="522.1" font-size="12.6" text-anchor="middle" fill="#1a1a1a"  stroke="#1a1a1a" stroke-width="0.23">IL-1β</text>
<line x1="848.8" y1="513" x2="848.8" y2="523.5" stroke="#111" stroke-width="2" />
<path d="M848.8,530.5 L845.4,523 L852.2,523 Z" fill="#111"/>
<text x="922.4" y="505.6" font-size="15.3" text-anchor="middle" fill="#1a1a1a"  stroke="#1a1a1a" stroke-width="0.28">Inhibit proinflammatory</text>
<text x="921" y="522.1" font-size="15.2" text-anchor="middle" fill="#1a1a1a"  stroke="#1a1a1a" stroke-width="0.27">cytokine release</text>
<line x1="608.2" y1="375.2" x2="633.6" y2="354.1" stroke="#9C6A2E" stroke-width="5.3" stroke-linecap="round"/>
<line x1="608.2" y1="375.2" x2="633.6" y2="354.1" stroke="#B3803F" stroke-width="4.3" stroke-linecap="round"/>
<line x1="600.1" y1="400.8" x2="625.7" y2="379.5" stroke="#9C6A2E" stroke-width="5.3" stroke-linecap="round"/>
<line x1="600.1" y1="400.8" x2="625.7" y2="379.5" stroke="#B3803F" stroke-width="4.3" stroke-linecap="round"/>
<line x1="631" y1="389.8" x2="656.6" y2="368.8" stroke="#9C6A2E" stroke-width="5.3" stroke-linecap="round"/>
<line x1="631" y1="389.8" x2="656.6" y2="368.8" stroke="#B3803F" stroke-width="4.3" stroke-linecap="round"/>
<line x1="639.4" y1="402" x2="664.5" y2="381" stroke="#9C6A2E" stroke-width="5.3" stroke-linecap="round"/>
<line x1="639.4" y1="402" x2="664.5" y2="381" stroke="#B3803F" stroke-width="4.3" stroke-linecap="round"/>
<line x1="662.2" y1="398.5" x2="687.4" y2="376.7" stroke="#9C6A2E" stroke-width="5.3" stroke-linecap="round"/>
<line x1="662.2" y1="398.5" x2="687.4" y2="376.7" stroke="#B3803F" stroke-width="4.3" stroke-linecap="round"/>
<line x1="656.5" y1="421.5" x2="681.7" y2="400.8" stroke="#9C6A2E" stroke-width="5.3" stroke-linecap="round"/>
<line x1="656.5" y1="421.5" x2="681.7" y2="400.8" stroke="#B3803F" stroke-width="4.3" stroke-linecap="round"/>
<line x1="698" y1="410.6" x2="698" y2="420.6" stroke="#111" stroke-width="2" />
<path d="M698,403.6 L694.6,411.1 L701.4,411.1 Z" fill="#111"/>
<text x="641.7" y="443.5" font-size="14.8" text-anchor="middle" fill="#1a1a1a"  stroke="#1a1a1a" stroke-width="0.27">Enhanced intracellular</text>
<text x="643.6" y="461.2" font-size="14.8" text-anchor="middle" fill="#1a1a1a"  stroke="#1a1a1a" stroke-width="0.27">survival of mycobacterium</text>
<text x="560.3" y="526.7" font-size="15.1" text-anchor="start" fill="#1a1a1a"  stroke="#1a1a1a" stroke-width="0.27">Extracellular</text>
<text x="27.6" y="20.2" font-size="11" text-anchor="start" fill="#1a1a1a"  stroke="#1a1a1a" stroke-width="0.2">A</text>
<text x="45" y="66.6" font-size="6.9" text-anchor="start" fill="#1a1a1a"  stroke="#1a1a1a" stroke-width="0.13">MTB</text>
<line x1="51.3" y1="73.8" x2="55.4" y2="69.7" stroke="#A5652F" stroke-width="1.3" stroke-linecap="round"/>
<line x1="50.1" y1="78.1" x2="54" y2="74.3" stroke="#A5652F" stroke-width="1.3" stroke-linecap="round"/>
<line x1="55.4" y1="75.7" x2="59.3" y2="72.2" stroke="#A5652F" stroke-width="1.3" stroke-linecap="round"/>
<line x1="53.4" y1="80.8" x2="57.2" y2="76.9" stroke="#A5652F" stroke-width="1.3" stroke-linecap="round"/>
<line x1="58.4" y1="78.7" x2="62.3" y2="74.6" stroke="#A5652F" stroke-width="1.3" stroke-linecap="round"/>
<g transform="translate(67.2,52.2) rotate(30.8)"><rect x="3" y="-1.7" width="26" height="3.4" fill="#fff" stroke="#111" stroke-width="0.8"/><line x1="0" y1="0" x2="4" y2="0" stroke="#111" stroke-width="0.9"/><line x1="0.4" y1="-2.5" x2="0.4" y2="2.5" stroke="#111" stroke-width="1.3"/><line x1="3" y1="-2.6" x2="3" y2="2.6" stroke="#111" stroke-width="1.1"/><line x1="6" y1="0.3" x2="26" y2="0.3" stroke="#555" stroke-width="0.5" stroke-dasharray="1,1.2"/><path d="M29,-1.7 L31.5,-0.4 L31.5,0.4 L29,1.7Z" fill="#333"/><line x1="31" y1="0" x2="46" y2="0" stroke="#222" stroke-width="0.6"/></g>
<path d="M116.8,72.6 C116.2,71.98 115.9,70.83 115.6,69.3 C115.3,67.77 114.8,65.77 115,63.4 C115.2,61.03 115.72,57.47 116.8,55.1 C117.88,52.73 119.72,50.68 121.5,49.2 C123.28,47.72 125.13,46.88 127.5,46.2 C129.87,45.52 133.15,45.22 135.7,45.1 C138.25,44.98 140.62,45.35 142.8,45.5 C144.98,45.65 147.43,46.02 148.8,46 C150.17,45.98 150.47,45.8 151,45.4 C151.53,45 151.47,43.97 152,43.6 C152.53,43.23 153.5,43 154.2,43.2 C154.9,43.4 155.13,44.12 156.2,44.8 C157.27,45.48 158.88,46.47 160.6,47.3 C162.32,48.13 164.8,48.92 166.5,49.8 C168.2,50.68 169.92,51.82 170.8,52.6 C171.68,53.38 172.02,53.78 171.8,54.5 C171.58,55.22 170.78,56.03 169.5,56.9 C168.22,57.77 165.78,58.92 164.1,59.7 C162.42,60.48 160.62,60.82 159.4,61.6 C158.18,62.38 156.97,63.13 156.8,64.4 C156.63,65.67 157.57,67.83 158.4,69.2 C159.23,70.57 160.72,71.73 161.8,72.6 C162.88,73.47 164.67,73.87 164.9,74.4 C165.13,74.93 164.32,75.73 163.2,75.8 C162.08,75.87 159.62,75.45 158.2,74.8 C156.78,74.15 155.88,72.7 154.7,71.9 C153.52,71.1 152.68,70.22 151.1,70 C149.52,69.78 146.57,70.2 145.2,70.6 C143.83,71 142.97,71.8 142.9,72.4 C142.83,73 144.82,73.72 144.8,74.2 C144.78,74.68 144.12,75.12 142.8,75.3 C141.48,75.48 138.87,75.4 136.9,75.3 C134.93,75.2 133.17,74.98 131,74.7 C128.83,74.42 125.87,73.88 123.9,73.6 C121.93,73.32 120.38,73.17 119.2,73 C118.02,72.83 117.4,73.22 116.8,72.6Z" fill="#5A5A5A"/>
<path d="M117.5,72.3 C115,74.5 113.5,75.6 112.1,75.9 C110,76.5 108.5,76.7 107.3,76.8 C104,77 101,77 99,77.1 C97,77.2 95,77.4 93,77.7" fill="none" stroke="#5A5A5A" stroke-width="1.2" stroke-linecap="round"/>
<circle cx="157.6" cy="51.6" r="1.9" fill="#000"/>
<text x="121.8" y="31.5" font-size="6.9" text-anchor="middle" fill="#1a1a1a"  stroke="#1a1a1a" stroke-width="0.13">C57BL/6</text>
<text x="122" y="39.2" font-size="6.9" text-anchor="middle" fill="#1a1a1a"  stroke="#1a1a1a" stroke-width="0.13">mice</text>
<rect x="186" y="55.4" width="200" height="5.6" fill="#080808"/>
<path d="M384.8,48.8 L407,58.2 L384.8,66.8 L389,58.2Z" fill="#080808"/>
<circle cx="187.7" cy="58.2" r="5.5" fill="#DA1820"/>
<circle cx="198.7" cy="58.2" r="5.5" fill="#DA1820"/>
<circle cx="234.5" cy="58.2" r="5.5" fill="#DA1820"/>
<circle cx="280.7" cy="58.2" r="5.5" fill="#DA1820"/>
<circle cx="366.6" cy="58.2" r="5.5" fill="#DA1820"/>
<text x="179.3" y="21.7" font-size="7.1" text-anchor="start" fill="#1a1a1a"  stroke="#1a1a1a" stroke-width="0.13">Bacterial load</text>
<line x1="198.4" y1="25.4" x2="198.4" y2="36.3" stroke="#111" stroke-width="1.2" />
<path d="M198.4,40 L196.4,35.8 L200.4,35.8 Z" fill="#111"/>
<text x="192.6" y="47.7" font-size="7.1" text-anchor="middle" fill="#1a1a1a"  stroke="#1a1a1a" stroke-width="0.13">0 d 1 d</text>
<text x="236" y="47.7" font-size="7.1" text-anchor="middle" fill="#1a1a1a"  stroke="#1a1a1a" stroke-width="0.13">7 d</text>
<text x="280.4" y="47.7" font-size="7.1" text-anchor="middle" fill="#1a1a1a"  stroke="#1a1a1a" stroke-width="0.13">14 d</text>
<text x="366.1" y="47.7" font-size="7.1" text-anchor="middle" fill="#1a1a1a"  stroke="#1a1a1a" stroke-width="0.13">31 d</text>
<text x="286.2" y="27.1" font-size="7.2" text-anchor="middle" fill="#1a1a1a"  stroke="#1a1a1a" stroke-width="0.13">Time post infection</text>
<line x1="187.7" y1="70.5" x2="187.7" y2="81.2" stroke="#111" stroke-width="1.2" />
<path d="M187.7,66.8 L185.7,71 L189.7,71 Z" fill="#111"/>
<line x1="235.6" y1="70.5" x2="235.6" y2="81.2" stroke="#111" stroke-width="1.2" />
<path d="M235.6,66.8 L233.6,71 L237.6,71 Z" fill="#111"/>
<line x1="280.7" y1="70.5" x2="280.7" y2="81.2" stroke="#111" stroke-width="1.2" />
<path d="M280.7,66.8 L278.7,71 L282.7,71 Z" fill="#111"/>
<line x1="366.6" y1="70.5" x2="366.6" y2="81.2" stroke="#111" stroke-width="1.2" />
<path d="M366.6,66.8 L364.6,71 L368.6,71 Z" fill="#111"/>
<text x="187.6" y="86.9" font-size="6.95" text-anchor="middle" fill="#1a1a1a"  stroke="#1a1a1a" stroke-width="0.13">Infected via</text>
<text x="187.8" y="95.3" font-size="6.95" text-anchor="middle" fill="#1a1a1a"  stroke="#1a1a1a" stroke-width="0.13">vein tail injection</text>
<text x="237.4" y="87.6" font-size="7" text-anchor="middle" fill="#1a1a1a"  stroke="#1a1a1a" stroke-width="0.13">Bacterial load</text>
<text x="283" y="87.6" font-size="7" text-anchor="middle" fill="#1a1a1a"  stroke="#1a1a1a" stroke-width="0.13">ELISA</text>
<text x="282.8" y="95.7" font-size="7" text-anchor="middle" fill="#1a1a1a"  stroke="#1a1a1a" stroke-width="0.13">Bacterial load</text>
<text x="367" y="87.6" font-size="7" text-anchor="middle" fill="#1a1a1a"  stroke="#1a1a1a" stroke-width="0.13">ELISA</text>
<text x="367" y="95.7" font-size="7" text-anchor="middle" fill="#1a1a1a"  stroke="#1a1a1a" stroke-width="0.13">Bacterial load</text>
<text x="367" y="103.5" font-size="7.1" text-anchor="middle" fill="#1a1a1a"  stroke="#1a1a1a" stroke-width="0.13">AFB</text>
<text x="367" y="111.7" font-size="7.1" text-anchor="middle" fill="#1a1a1a"  stroke="#1a1a1a" stroke-width="0.13">Pathology</text>
<text x="367" y="119.3" font-size="7.1" text-anchor="middle" fill="#1a1a1a"  stroke="#1a1a1a" stroke-width="0.13">Western blot</text>
<text x="26.2" y="133.4" font-size="11.3" text-anchor="start" fill="#1a1a1a"  stroke="#1a1a1a" stroke-width="0.2">B</text>
<line x1="47.6" y1="159.3" x2="47.6" y2="205.8" stroke="#444" stroke-width="0.8" />
<line x1="47.3" y1="205.5" x2="104.6" y2="205.5" stroke="#444" stroke-width="0.8" />
<line x1="45.8" y1="205.5" x2="47.6" y2="205.5" stroke="#444" stroke-width="0.7" />
<text x="45.3" y="206.8" font-size="3.7" text-anchor="end" fill="#222" font-weight="bold">0</text>
<line x1="45.8" y1="190.1" x2="47.6" y2="190.1" stroke="#444" stroke-width="0.7" />
<text x="45.3" y="191.4" font-size="3.7" text-anchor="end" fill="#222" font-weight="bold">50</text>
<line x1="45.8" y1="174.7" x2="47.6" y2="174.7" stroke="#444" stroke-width="0.7" />
<text x="45.3" y="176" font-size="3.7" text-anchor="end" fill="#222" font-weight="bold">100</text>
<line x1="45.8" y1="159.3" x2="47.6" y2="159.3" stroke="#444" stroke-width="0.7" />
<text x="45.3" y="160.6" font-size="3.7" text-anchor="end" fill="#222" font-weight="bold">150</text>
<line x1="57.65" y1="194.5" x2="57.65" y2="189.4" stroke="#111111" stroke-width="0.9" />
<line x1="55.45" y1="189.4" x2="59.85" y2="189.4" stroke="#111111" stroke-width="0.9" />
<rect x="53.3" y="194.5" width="8.7" height="11" fill="#111111" />
<line x1="57.65" y1="205.5" x2="57.65" y2="207.1" stroke="#444" stroke-width="0.7" />
<line x1="70.75" y1="192.4" x2="70.75" y2="187.4" stroke="#9a9a9e" stroke-width="0.9" />
<line x1="68.55" y1="187.4" x2="72.95" y2="187.4" stroke="#9a9a9e" stroke-width="0.9" />
<rect x="66.5" y="192.4" width="8.5" height="13.1" fill="#9a9a9e" />
<line x1="70.75" y1="205.5" x2="70.75" y2="207.1" stroke="#444" stroke-width="0.7" />
<line x1="84.1" y1="174.2" x2="84.1" y2="167.4" stroke="#6f6f6f" stroke-width="0.9" />
<line x1="81.9" y1="167.4" x2="86.3" y2="167.4" stroke="#6f6f6f" stroke-width="0.9" />
<rect x="80" y="174.2" width="8.2" height="31.3" fill="#6f6f6f" />
<line x1="84.1" y1="205.5" x2="84.1" y2="207.1" stroke="#444" stroke-width="0.7" />
<line x1="97.55" y1="184.8" x2="97.55" y2="180.3" stroke="#bdbdbd" stroke-width="0.9" />
<line x1="95.35" y1="180.3" x2="99.75" y2="180.3" stroke="#bdbdbd" stroke-width="0.9" />
<rect x="93.3" y="184.8" width="8.5" height="20.7" fill="#d2d2d2" />
<line x1="97.55" y1="205.5" x2="97.55" y2="207.1" stroke="#444" stroke-width="0.7" />
<line x1="66" y1="165.2" x2="87.7" y2="165.2" stroke="#555" stroke-width="1.1" />
<text x="76.8" y="163.6" font-size="5" text-anchor="middle" fill="#222" font-weight="bold">**</text>
<line x1="79.7" y1="155.9" x2="101.2" y2="155.9" stroke="#555" stroke-width="1.1" />
<text x="90.5" y="154.3" font-size="5" text-anchor="middle" fill="#222" font-weight="bold">*</text>
<text x="77.1" y="149.6" font-size="4.9" text-anchor="middle" fill="#111" font-weight="bold">IL-1β</text>
<rect x="104.6" y="146.5" width="5" height="2.2" fill="#111111" />
<text x="112.2" y="149" font-size="4" text-anchor="start" fill="#333" >PBST</text>
<rect x="104.6" y="152.8" width="5" height="2.2" fill="#9a9a9e" />
<text x="112.2" y="155.3" font-size="4" text-anchor="start" fill="#333" >H37Rv</text>
<rect x="104.6" y="159" width="5" height="2.2" fill="#6f6f6f" />
<text x="112.2" y="161.5" font-size="4" text-anchor="start" fill="#333" >H37RvΔPE12</text>
<rect x="104.6" y="164.6" width="5" height="2.2" fill="#d2d2d2" />
<text x="112.2" y="167.1" font-size="4" text-anchor="start" fill="#333" >H37RvΔPE12::PE12</text>
<text transform="translate(35.1,182.4) rotate(-90)" font-size="3.8" text-anchor="middle" fill="#222" font-weight="bold">concentration</text>
<text transform="translate(38.9,182.4) rotate(-90)" font-size="3.8" text-anchor="middle" fill="#222" font-weight="bold">(pg/mL)</text>
<text transform="translate(59.2,209.1) rotate(-45)" font-size="4" text-anchor="end" fill="#333" >PBST</text>
<text transform="translate(72.3,209.1) rotate(-45)" font-size="4" text-anchor="end" fill="#333" >H37Rv</text>
<text transform="translate(85.6,209.1) rotate(-45)" font-size="4" text-anchor="end" fill="#333" >H37RvΔPE12</text>
<text transform="translate(99.1,209.1) rotate(-45)" font-size="4" text-anchor="end" fill="#333" >H37RvΔPE12::PE12</text>
<text x="143.5" y="133.6" font-size="11.8" text-anchor="start" fill="#1a1a1a"  stroke="#1a1a1a" stroke-width="0.21">C</text>
<text x="204" y="133.5" font-size="9.3" text-anchor="middle" fill="#1a1a1a"  stroke="#1a1a1a" stroke-width="0.17">31 d</text>
<rect x="161.2" y="161.1" width="84.1" height="16.4" fill="#e0e0e0" />
<rect x="161.2" y="186" width="84.1" height="22.9" fill="#dedede" />
<rect x="161.2" y="161.1" width="11.8" height="16.4" fill="#d2d2d2" />
<rect x="161.2" y="186" width="11.8" height="22.9" fill="#cccccc" />
<line x1="193.5" y1="161.1" x2="193.5" y2="177.5" stroke="#e2e2e2" stroke-width="0.6" />
<line x1="193.5" y1="186" x2="193.5" y2="208.9" stroke="#e0e0e0" stroke-width="0.6" />
<line x1="209.5" y1="161.1" x2="209.5" y2="177.5" stroke="#e2e2e2" stroke-width="0.6" />
<line x1="209.5" y1="186" x2="209.5" y2="208.9" stroke="#e0e0e0" stroke-width="0.6" />
<line x1="225.3" y1="161.1" x2="225.3" y2="177.5" stroke="#e2e2e2" stroke-width="0.6" />
<line x1="225.3" y1="186" x2="225.3" y2="208.9" stroke="#e0e0e0" stroke-width="0.6" />
<rect x="161.8" y="164.45" width="11.7" height="1.9" rx="0.95" fill="#2a2a2a" opacity="0.95" filter="url(#bb)"/>
<rect x="161.8" y="169.85" width="11.7" height="1.9" rx="0.95" fill="#2a2a2a" opacity="0.95" filter="url(#bb)"/>
<rect x="179" y="167.2" width="8.5" height="1.6" rx="0.8" fill="#b4b4b4" opacity="1" filter="url(#bb)"/>
<rect x="195" y="167.2" width="12.7" height="2" rx="1" fill="#7c7c7c" opacity="1" filter="url(#bb)"/>
<rect x="211" y="167.5" width="14.5" height="2.6" rx="1.3" fill="#787878" opacity="1" filter="url(#bb)"/>
<rect x="231.4" y="167.35" width="11" height="2.1" rx="1.05" fill="#787878" opacity="1" filter="url(#bb)"/>
<rect x="162" y="188.5" width="10.5" height="1.8" rx="0.9" fill="#303030" opacity="0.95" filter="url(#bb)"/>
<rect x="162.5" y="193" width="9.5" height="1" rx="0.5" fill="#999" opacity="0.6" filter="url(#bb)"/>
<rect x="162" y="197.45" width="10.5" height="1.9" rx="0.95" fill="#303030" opacity="0.95" filter="url(#bb)"/>
<rect x="162" y="202.45" width="10.5" height="1.9" rx="0.95" fill="#303030" opacity="0.95" filter="url(#bb)"/>
<rect x="175.5" y="199.95" width="14.9" height="1.9" rx="0.95" fill="#303030" opacity="1" filter="url(#bb)"/>
<rect x="193.3" y="199.95" width="14.1" height="1.9" rx="0.95" fill="#303030" opacity="1" filter="url(#bb)"/>
<rect x="209.4" y="199.95" width="13.9" height="1.9" rx="0.95" fill="#303030" opacity="1" filter="url(#bb)"/>
<rect x="225.5" y="200.05" width="15.2" height="2.3" rx="1.15" fill="#222222" opacity="1" filter="url(#bb)"/>
<text x="149.3" y="154.3" font-size="4.1" text-anchor="start" fill="#333" >kDa</text>
<text x="164.6" y="154.3" font-size="4.5" text-anchor="middle" fill="#333" >M</text>
<text x="155.8" y="166.6" font-size="4" text-anchor="end" fill="#333" >115</text>
<text x="155.8" y="173.2" font-size="4" text-anchor="end" fill="#333" >90</text>
<text x="155.8" y="189.9" font-size="4" text-anchor="end" fill="#333" >50</text>
<text x="155.8" y="199.8" font-size="4" text-anchor="end" fill="#333" >40</text>
<text x="155.8" y="206.6" font-size="4" text-anchor="end" fill="#333" >35</text>
<text x="252" y="169.8" font-size="4.6" text-anchor="start" fill="#333" >NLRP3</text>
<text x="252" y="203.5" font-size="4.6" text-anchor="start" fill="#333" >GAPDH</text>
<text transform="translate(178.9,154) rotate(-45)" font-size="3.8" text-anchor="start" fill="#333" >PBST</text>
<text transform="translate(198.3,154) rotate(-45)" font-size="3.8" text-anchor="start" fill="#333" >H37Rv</text>
<text transform="translate(213.6,154) rotate(-45)" font-size="3.8" text-anchor="start" fill="#333" >H37RvΔPE12</text>
<text transform="translate(232.2,154) rotate(-45)" font-size="3.8" text-anchor="start" fill="#333" >H37RvΔPE12::PE12</text>
<text x="267.6" y="133.4" font-size="11.3" text-anchor="start" fill="#1a1a1a"  stroke="#1a1a1a" stroke-width="0.2">D</text>
<text x="342.6" y="133.5" font-size="8.6" text-anchor="middle" fill="#1a1a1a"  stroke="#1a1a1a" stroke-width="0.13">Bacterial load</text>
<line x1="285.1" y1="147.1" x2="285.1" y2="207.1" stroke="#222" stroke-width="1" />
<line x1="284.7" y1="206.7" x2="396" y2="206.7" stroke="#222" stroke-width="1" />
<line x1="283.3" y1="206.7" x2="285.1" y2="206.7" stroke="#222" stroke-width="0.8" />
<text x="282.9" y="208.2" font-size="4.4" text-anchor="end" fill="#222" font-weight="bold">0</text>
<line x1="283.3" y1="194.78" x2="285.1" y2="194.78" stroke="#222" stroke-width="0.8" />
<text x="282.9" y="196.28" font-size="4.4" text-anchor="end" fill="#222" font-weight="bold">1</text>
<line x1="283.3" y1="182.86" x2="285.1" y2="182.86" stroke="#222" stroke-width="0.8" />
<text x="282.9" y="184.36" font-size="4.4" text-anchor="end" fill="#222" font-weight="bold">2</text>
<line x1="283.3" y1="170.94" x2="285.1" y2="170.94" stroke="#222" stroke-width="0.8" />
<text x="282.9" y="172.44" font-size="4.4" text-anchor="end" fill="#222" font-weight="bold">3</text>
<line x1="283.3" y1="159.02" x2="285.1" y2="159.02" stroke="#222" stroke-width="0.8" />
<text x="282.9" y="160.52" font-size="4.4" text-anchor="end" fill="#222" font-weight="bold">4</text>
<line x1="283.3" y1="147.1" x2="285.1" y2="147.1" stroke="#222" stroke-width="0.8" />
<text x="282.9" y="148.6" font-size="4.4" text-anchor="end" fill="#222" font-weight="bold">5</text>
<text transform="translate(276.2,177.5) rotate(-90)" font-size="4.9" text-anchor="middle" fill="#111" font-weight="bold">CFU×10<tspan font-size="3" dy="-1.6">6</tspan></text>
<circle cx="289.97" cy="204.91" r="1.45" fill="#111"/>
<circle cx="291.14" cy="204.96" r="1.45" fill="#111"/>
<circle cx="290.73" cy="204.78" r="1.45" fill="#111"/>
<circle cx="289.01" cy="204.7" r="1.45" fill="#111"/>
<circle cx="296.53" cy="204.74" r="1.45" fill="#111"/>
<circle cx="296.65" cy="204.95" r="1.45" fill="#111"/>
<circle cx="297.93" cy="204.5" r="1.45" fill="#111"/>
<circle cx="296.85" cy="204.87" r="1.45" fill="#111"/>
<circle cx="306.26" cy="204.43" r="1.45" fill="#111"/>
<circle cx="306.08" cy="204.76" r="1.45" fill="#111"/>
<circle cx="307.51" cy="204.97" r="1.45" fill="#111"/>
<circle cx="307.09" cy="204.83" r="1.45" fill="#111"/>
<line x1="298.2" y1="206.7" x2="298.2" y2="208.3" stroke="#222" stroke-width="0.8" />
<rect x="316.2" y="179.28" width="5.4" height="27.42" fill="#6c6c6c" stroke="#222" stroke-width="0.6"/>
<line x1="318.9" y1="179.28" x2="318.9" y2="176.78" stroke="#222" stroke-width="0.6" />
<line x1="317.6" y1="176.78" x2="320.2" y2="176.78" stroke="#222" stroke-width="0.6" />
<circle cx="317.68" cy="176.23" r="1.2" fill="#111"/>
<circle cx="319.91" cy="177.87" r="1.2" fill="#111"/>
<circle cx="319.16" cy="176.59" r="1.2" fill="#111"/>
<circle cx="318.49" cy="181.17" r="1.2" fill="#111"/>
<circle cx="317.5" cy="180.26" r="1.2" fill="#111"/>
<rect x="323.8" y="193.59" width="5.4" height="13.11" fill="#dedede" stroke="#222" stroke-width="0.6"/>
<line x1="326.5" y1="193.59" x2="326.5" y2="191.09" stroke="#222" stroke-width="0.6" />
<line x1="325.2" y1="191.09" x2="327.8" y2="191.09" stroke="#222" stroke-width="0.6" />
<circle cx="325.56" cy="189.68" r="1.2" fill="#111"/>
<circle cx="326.27" cy="195.89" r="1.2" fill="#111"/>
<circle cx="326.77" cy="192.23" r="1.2" fill="#111"/>
<circle cx="325.86" cy="193.62" r="1.2" fill="#111"/>
<circle cx="327.14" cy="197.03" r="1.2" fill="#111"/>
<rect x="331.4" y="177.5" width="5.4" height="29.2" fill="#cdcdcd" stroke="#222" stroke-width="0.6"/>
<line x1="334.1" y1="177.5" x2="334.1" y2="175" stroke="#222" stroke-width="0.6" />
<line x1="332.8" y1="175" x2="335.4" y2="175" stroke="#222" stroke-width="0.6" />
<circle cx="334.34" cy="175.44" r="1.2" fill="#111"/>
<circle cx="335.3" cy="178.25" r="1.2" fill="#111"/>
<circle cx="333.42" cy="180.29" r="1.2" fill="#111"/>
<circle cx="332.88" cy="182.8" r="1.2" fill="#111"/>
<circle cx="334.92" cy="177.18" r="1.2" fill="#111"/>
<line x1="326.5" y1="206.7" x2="326.5" y2="208.3" stroke="#222" stroke-width="0.8" />
<rect x="344.2" y="160.21" width="5.4" height="46.49" fill="#6c6c6c" stroke="#222" stroke-width="0.6"/>
<line x1="346.9" y1="160.21" x2="346.9" y2="157.71" stroke="#222" stroke-width="0.6" />
<line x1="345.6" y1="157.71" x2="348.2" y2="157.71" stroke="#222" stroke-width="0.6" />
<circle cx="346.86" cy="157.23" r="1.2" fill="#111"/>
<circle cx="347.44" cy="156.1" r="1.2" fill="#111"/>
<circle cx="347.13" cy="163.36" r="1.2" fill="#111"/>
<circle cx="346.3" cy="164.47" r="1.2" fill="#111"/>
<circle cx="347.2" cy="162.66" r="1.2" fill="#111"/>
<rect x="351.8" y="189.42" width="5.4" height="17.28" fill="#dedede" stroke="#222" stroke-width="0.6"/>
<line x1="354.5" y1="189.42" x2="354.5" y2="186.92" stroke="#222" stroke-width="0.6" />
<line x1="353.2" y1="186.92" x2="355.8" y2="186.92" stroke="#222" stroke-width="0.6" />
<circle cx="354.36" cy="190.71" r="1.2" fill="#111"/>
<circle cx="355.92" cy="193.32" r="1.2" fill="#111"/>
<circle cx="355.03" cy="189.66" r="1.2" fill="#111"/>
<circle cx="355.14" cy="185.52" r="1.2" fill="#111"/>
<circle cx="356.08" cy="191.39" r="1.2" fill="#111"/>
<rect x="359.4" y="169.15" width="5.4" height="37.55" fill="#cdcdcd" stroke="#222" stroke-width="0.6"/>
<line x1="362.1" y1="169.15" x2="362.1" y2="166.65" stroke="#222" stroke-width="0.6" />
<line x1="360.8" y1="166.65" x2="363.4" y2="166.65" stroke="#222" stroke-width="0.6" />
<circle cx="361.41" cy="172.87" r="1.2" fill="#111"/>
<circle cx="362.64" cy="168.51" r="1.2" fill="#111"/>
<circle cx="361.98" cy="164.88" r="1.2" fill="#111"/>
<circle cx="360.87" cy="166.33" r="1.2" fill="#111"/>
<circle cx="362.96" cy="165.24" r="1.2" fill="#111"/>
<line x1="354.5" y1="206.7" x2="354.5" y2="208.3" stroke="#222" stroke-width="0.8" />
<rect x="372.7" y="170.94" width="5.4" height="35.76" fill="#6c6c6c" stroke="#222" stroke-width="0.6"/>
<line x1="375.4" y1="170.94" x2="375.4" y2="168.44" stroke="#222" stroke-width="0.6" />
<line x1="374.1" y1="168.44" x2="376.7" y2="168.44" stroke="#222" stroke-width="0.6" />
<circle cx="374.59" cy="167.73" r="1.2" fill="#111"/>
<circle cx="376.59" cy="170.35" r="1.2" fill="#111"/>
<circle cx="375.24" cy="167.25" r="1.2" fill="#111"/>
<circle cx="376.63" cy="171.93" r="1.2" fill="#111"/>
<circle cx="376.56" cy="174.63" r="1.2" fill="#111"/>
<rect x="380.3" y="180.48" width="5.4" height="26.22" fill="#dedede" stroke="#222" stroke-width="0.6"/>
<line x1="383" y1="180.48" x2="383" y2="177.98" stroke="#222" stroke-width="0.6" />
<line x1="381.7" y1="177.98" x2="384.3" y2="177.98" stroke="#222" stroke-width="0.6" />
<circle cx="382.73" cy="178.76" r="1.2" fill="#111"/>
<circle cx="384.23" cy="179.56" r="1.2" fill="#111"/>
<circle cx="381.88" cy="185.55" r="1.2" fill="#111"/>
<circle cx="382.14" cy="177.74" r="1.2" fill="#111"/>
<circle cx="382.95" cy="178.31" r="1.2" fill="#111"/>
<rect x="387.9" y="169.75" width="5.4" height="36.95" fill="#cdcdcd" stroke="#222" stroke-width="0.6"/>
<line x1="390.6" y1="169.75" x2="390.6" y2="167.25" stroke="#222" stroke-width="0.6" />
<line x1="389.3" y1="167.25" x2="391.9" y2="167.25" stroke="#222" stroke-width="0.6" />
<circle cx="389.84" cy="171.14" r="1.2" fill="#111"/>
<circle cx="390.34" cy="165.29" r="1.2" fill="#111"/>
<circle cx="390.81" cy="168.94" r="1.2" fill="#111"/>
<circle cx="391.21" cy="174.78" r="1.2" fill="#111"/>
<circle cx="390.98" cy="170.4" r="1.2" fill="#111"/>
<line x1="383" y1="206.7" x2="383" y2="208.3" stroke="#222" stroke-width="0.8" />
<text x="298.2" y="214" font-size="4.3" text-anchor="middle" fill="#222" font-weight="bold">1d</text>
<text x="325.3" y="214" font-size="4.3" text-anchor="middle" fill="#222" font-weight="bold">7d</text>
<text x="354.5" y="214" font-size="4.3" text-anchor="middle" fill="#222" font-weight="bold">14d</text>
<text x="382.7" y="214" font-size="4.3" text-anchor="middle" fill="#222" font-weight="bold">31d</text>
<text x="340.1" y="221.6" font-size="4.6" text-anchor="middle" fill="#222" font-weight="bold">Time post infection</text>
<line x1="287.5" y1="196.7" x2="300.4" y2="196.7" stroke="#1a1a1a" stroke-width="1.25" />
<text x="293.95" y="195.1" font-size="4.6" text-anchor="middle" fill="#1a1a1a" >ns</text>
<line x1="294.8" y1="188.2" x2="307.5" y2="188.2" stroke="#1a1a1a" stroke-width="1.25" />
<text x="301.15" y="186.6" font-size="4.6" text-anchor="middle" fill="#1a1a1a" >ns</text>
<line x1="316" y1="168.7" x2="327.4" y2="168.7" stroke="#1a1a1a" stroke-width="1.25" />
<text x="321.7" y="168.3" font-size="6" text-anchor="middle" fill="#111" font-weight="bold" stroke="#111" stroke-width="0.13">*</text>
<line x1="324.4" y1="158.6" x2="335.9" y2="158.6" stroke="#1a1a1a" stroke-width="1.25" />
<text x="330.15" y="158.2" font-size="6" text-anchor="middle" fill="#111" font-weight="bold" stroke="#111" stroke-width="0.13">*</text>
<line x1="344.9" y1="151" x2="356.2" y2="151" stroke="#1a1a1a" stroke-width="1.25" />
<text x="350.55" y="150.6" font-size="6" text-anchor="middle" fill="#111" font-weight="bold" stroke="#111" stroke-width="0.13">**</text>
<line x1="353.2" y1="142" x2="364.4" y2="142" stroke="#1a1a1a" stroke-width="1.25" />
<text x="358.8" y="141.6" font-size="6" text-anchor="middle" fill="#111" font-weight="bold" stroke="#111" stroke-width="0.13">*</text>
<line x1="372.8" y1="161.5" x2="383.8" y2="161.5" stroke="#1a1a1a" stroke-width="1.25" />
<text x="378.3" y="161.1" font-size="6" text-anchor="middle" fill="#111" font-weight="bold" stroke="#111" stroke-width="0.13">*</text>
<line x1="380.8" y1="154.7" x2="392.6" y2="154.7" stroke="#1a1a1a" stroke-width="1.25" />
<text x="386.7" y="154.3" font-size="6" text-anchor="middle" fill="#111" font-weight="bold" stroke="#111" stroke-width="0.13">*</text>
<circle cx="397.7" cy="142.9" r="1.4" fill="#111"/>
<text x="404.5" y="144.5" font-size="4.8" text-anchor="start" fill="#222" >H37Rv</text>
<circle cx="397.7" cy="151" r="1.4" fill="#111"/>
<text x="404.5" y="152.6" font-size="4.8" text-anchor="start" fill="#222" >H37RvΔPE12</text>
<circle cx="397.7" cy="159.3" r="1.4" fill="#111"/>
<text x="404.5" y="160.9" font-size="4.8" text-anchor="start" fill="#222" >H37RvΔPE12::PE12</text>
<text x="313.2" y="451.2" font-size="11" text-anchor="start" fill="#1a1a1a"  stroke="#1a1a1a" stroke-width="0.2">G</text>
<text x="327.5" y="452.8" font-size="8.2" text-anchor="start" fill="#1a1a1a"  stroke="#1a1a1a" stroke-width="0.13">Lung histopathology score</text>
<line x1="333.4" y1="473.4" x2="333.4" y2="544.4" stroke="#333" stroke-width="0.9" />
<line x1="333" y1="544" x2="421" y2="544" stroke="#333" stroke-width="0.9" />
<line x1="331.6" y1="544" x2="333.4" y2="544" stroke="#333" stroke-width="0.7" />
<text x="331" y="545.5" font-size="4.6" text-anchor="end" fill="#222" >0</text>
<line x1="331.6" y1="529.88" x2="333.4" y2="529.88" stroke="#333" stroke-width="0.7" />
<text x="331" y="531.38" font-size="4.6" text-anchor="end" fill="#222" >1</text>
<line x1="331.6" y1="515.76" x2="333.4" y2="515.76" stroke="#333" stroke-width="0.7" />
<text x="331" y="517.26" font-size="4.6" text-anchor="end" fill="#222" >2</text>
<line x1="331.6" y1="501.64" x2="333.4" y2="501.64" stroke="#333" stroke-width="0.7" />
<text x="331" y="503.14" font-size="4.6" text-anchor="end" fill="#222" >3</text>
<line x1="331.6" y1="487.52" x2="333.4" y2="487.52" stroke="#333" stroke-width="0.7" />
<text x="331" y="489.02" font-size="4.6" text-anchor="end" fill="#222" >4</text>
<line x1="331.6" y1="473.4" x2="333.4" y2="473.4" stroke="#333" stroke-width="0.7" />
<text x="331" y="474.9" font-size="4.6" text-anchor="end" fill="#222" >5</text>
<text transform="translate(322.4,509) rotate(-90)" font-size="5.5" text-anchor="middle" fill="#111" >Lung HistoPathology Score</text>
<line x1="366.6" y1="487.52" x2="366.6" y2="480.5" stroke="#a1a1a7" stroke-width="1" />
<line x1="363.8" y1="480.5" x2="369.4" y2="480.5" stroke="#a1a1a7" stroke-width="1" />
<rect x="360" y="487.52" width="13.2" height="56.48" fill="#a1a1a7" />
<line x1="387.05" y1="515.76" x2="387.05" y2="510.3" stroke="#7b7b7b" stroke-width="1" />
<line x1="384.25" y1="510.3" x2="389.85" y2="510.3" stroke="#7b7b7b" stroke-width="1" />
<rect x="380.3" y="515.76" width="13.5" height="28.24" fill="#7b7b7b" />
<line x1="407.25" y1="501.64" x2="407.25" y2="491.4" stroke="#d6d6d6" stroke-width="1" />
<line x1="404.45" y1="491.4" x2="410.05" y2="491.4" stroke="#d6d6d6" stroke-width="1" />
<rect x="400.5" y="501.64" width="13.5" height="42.36" fill="#d6d6d6" />
<line x1="346.5" y1="544" x2="346.5" y2="545.7" stroke="#333" stroke-width="0.7" />
<line x1="366.6" y1="544" x2="366.6" y2="545.7" stroke="#333" stroke-width="0.7" />
<line x1="387" y1="544" x2="387" y2="545.7" stroke="#333" stroke-width="0.7" />
<line x1="407.2" y1="544" x2="407.2" y2="545.7" stroke="#333" stroke-width="0.7" />
<line x1="359" y1="472.9" x2="393.8" y2="472.9" stroke="#222" stroke-width="1.1" />
<text x="376.3" y="471.6" font-size="6.6" text-anchor="middle" fill="#111" font-weight="bold" stroke="#111" stroke-width="0.13">*</text>
<line x1="381.5" y1="463.9" x2="413.5" y2="463.9" stroke="#222" stroke-width="1.1" />
<text x="397.4" y="462.6" font-size="6.6" text-anchor="middle" fill="#111" font-weight="bold" stroke="#111" stroke-width="0.13">*</text>
<text transform="translate(347.7,547.6) rotate(-45)" font-size="4.6" text-anchor="end" fill="#111" font-weight="bold">PBST</text>
<text transform="translate(367.8,547.6) rotate(-45)" font-size="4.6" text-anchor="end" fill="#111" font-weight="bold">H37Rv</text>
<text transform="translate(388.2,547.6) rotate(-45)" font-size="4.6" text-anchor="end" fill="#111" font-weight="bold">H37RvΔPE12</text>
<text transform="translate(408.4,547.6) rotate(-45)" font-size="4.6" text-anchor="end" fill="#111" font-weight="bold">H37RvΔPE12::PE12</text>
<text x="27.6" y="232.4" font-size="11" text-anchor="start" fill="#1a1a1a"  stroke="#1a1a1a" stroke-width="0.2">E</text>
<text x="10.8" y="294.8" font-size="9" text-anchor="start" fill="#1a1a1a"  stroke="#1a1a1a" stroke-width="0.16">200×</text>
<text x="10.3" y="390" font-size="9" text-anchor="start" fill="#1a1a1a"  stroke="#1a1a1a" stroke-width="0.16">1000×</text>
<rect x="41" y="237" width="126.5" height="95.7" filter="url(#tf1)" />
<rect x="41" y="237" width="126.5" height="95.7" filter="url(#sf2)" opacity="0.9"/>
<rect x="169.5" y="237" width="126" height="95.7" filter="url(#tf3)" />
<rect x="169.5" y="237" width="126" height="95.7" filter="url(#sf4)" opacity="0.95"/>
<rect x="297.7" y="237" width="125.3" height="95.7" filter="url(#tf5)" />
<rect x="297.7" y="237" width="125.3" height="95.7" filter="url(#sf6)" opacity="1"/>
<rect x="297.7" y="237" width="125.3" height="95.7" filter="url(#sf7)" opacity="0.9"/>
<rect x="41" y="237" width="126.5" height="95.7" filter="url(#sp8)" opacity="0.9" mask="url(#m1)"/>
<g filter="url(#rough2)">
<path d="M77,236.2 C78.33,235.57 83.17,235.57 84,236.2 C84.83,236.83 83,238.7 82,240 C81,241.3 79.08,242.5 78,244 C76.92,245.5 76.17,247.42 75.5,249 C74.83,250.58 75.25,252.17 74,253.5 C72.75,254.83 70,255.75 68,257 C66,258.25 63.75,260.58 62,261 C60.25,261.42 58.75,260.83 57.5,259.5 C56.25,258.17 54.75,254.92 54.5,253 C54.25,251.08 54.92,249.17 56,248 C57.08,246.83 59,246.33 61,246 C63,245.67 66,246.33 68,246 C70,245.67 71.67,245 73,244 C74.33,243 75.33,241.3 76,240 C76.67,238.7 75.67,236.83 77,236.2Z" fill="#fbfcfe" opacity="1"/>
<path d="M60,265 C61.08,263.67 63.83,263.25 66,263 C68.17,262.75 71.25,262.67 73,263.5 C74.75,264.33 76.08,266.25 76.5,268 C76.92,269.75 76.58,272.5 75.5,274 C74.42,275.5 72.08,276.58 70,277 C67.92,277.42 64.75,277.5 63,276.5 C61.25,275.5 60,272.92 59.5,271 C59,269.08 58.92,266.33 60,265Z" fill="#fbfcfe" opacity="1"/>
<path d="M40.5,241.5 C41.08,240.42 43,240.08 44,240.5 C45,240.92 46.5,242.83 46.5,244 C46.5,245.17 45,247 44,247.5 C43,248 41.08,248 40.5,247 C39.92,246 39.92,242.58 40.5,241.5Z" fill="#fbfcfe" opacity="0.9"/>
</g>
<path d="M145,290 L163,268 L165,270 L148,291Z" fill="#fbfcfe" opacity="0.8" filter="url(#soft)"/>
<path d="M286,237 C292,255 294,290 289,332.7 L295.5,332.7 L295.5,237Z" fill="#fbfcfe" opacity="0.9"/>
<path d="M160,300 C163,310 165,320 167.5,330 L167.5,300Z" fill="#fbfcfe" opacity="0.8"/>
<rect x="41.2" y="334.4" width="126.3" height="93.2" filter="url(#tf9)" />
<rect x="41.2" y="334.4" width="126.3" height="93.2" filter="url(#cn10)"/>
<rect x="41.2" y="334.4" width="126.3" height="93.2" filter="url(#sf11)" opacity="1"/>
<rect x="41.2" y="334.4" width="126.3" height="93.2" filter="url(#sp12)" opacity="0.95" mask="url(#m4)"/>
<g filter="url(#rough2)">
<path d="M45,340 C46.17,338.83 51.5,338.75 55,339 C58.5,339.25 63.83,340.17 66,341.5 C68.17,342.83 68.67,345.5 68,347 C67.33,348.5 64.17,350.17 62,350.5 C59.83,350.83 57.33,349.75 55,349 C52.67,348.25 49.67,347.5 48,346 C46.33,344.5 43.83,341.17 45,340Z" fill="#f6f9fd" opacity="1"/>
<path d="M107,364 C108,362.08 110.83,361.67 113,361.5 C115.17,361.33 118.58,361.58 120,363 C121.42,364.42 121.67,367.58 121.5,370 C121.33,372.42 120.58,376.17 119,377.5 C117.42,378.83 114,378.75 112,378 C110,377.25 107.83,375.33 107,373 C106.17,370.67 106,365.92 107,364Z" fill="#f6f9fd" opacity="1"/>
<path d="M88,372 C89,370.58 93,369.33 96,368.5 C99,367.67 104,366.58 106,367 C108,367.42 109.33,369.83 108,371 C106.67,372.17 101,373 98,374 C95,375 91.67,377.33 90,377 C88.33,376.67 87,373.42 88,372Z" fill="#f6f9fd" opacity="1"/>
<path d="M69,353 C69.5,352 72.5,351.33 74,351.5 C75.5,351.67 77.67,353 78,354 C78.33,355 77.17,356.92 76,357.5 C74.83,358.08 72.17,358.25 71,357.5 C69.83,356.75 68.5,354 69,353Z" fill="#f6f9fd" opacity="0.9"/>
<path d="M87,342 C87.67,340.42 91.33,340.17 93,340.5 C94.67,340.83 96.67,342.42 97,344 C97.33,345.58 96.33,349 95,350 C93.67,351 90.33,351.33 89,350 C87.67,348.67 86.33,343.58 87,342Z" fill="#f6f9fd" opacity="0.9"/>
<path d="M65,393 C65.92,392 68.83,391.33 70,392 C71.17,392.67 72.33,395.5 72,397 C71.67,398.5 69.25,400.83 68,401 C66.75,401.17 65,399.33 64.5,398 C64,396.67 64.08,394 65,393Z" fill="#f6f9fd" opacity="0.9"/>
<path d="M130,384 C130.83,382.17 135,381.5 137,382 C139,382.5 141.67,385.17 142,387 C142.33,388.83 140.67,392 139,393 C137.33,394 133.5,394.5 132,393 C130.5,391.5 129.17,385.83 130,384Z" fill="#f6f9fd" opacity="0.85"/>
<path d="M82,420 C83.67,418.23 88.5,417.17 92,417 C95.5,416.83 101.33,417.23 103,419 C104.67,420.77 105.5,426.17 102,427.6 C98.5,429.03 85.33,428.87 82,427.6 C78.67,426.33 80.33,421.77 82,420Z" fill="#f6f9fd" opacity="0.9"/>
<path d="M150,417 C150.83,415.83 154.17,414.83 156,415 C157.83,415.17 160.67,416.75 161,418 C161.33,419.25 159.67,421.83 158,422.5 C156.33,423.17 152.33,422.92 151,422 C149.67,421.08 149.17,418.17 150,417Z" fill="#f6f9fd" opacity="0.9"/>
<path d="M111,348 C111.83,346.83 115.08,346.25 117,346.5 C118.92,346.75 122.17,348.25 122.5,349.5 C122.83,350.75 120.75,353.33 119,354 C117.25,354.67 113.33,354.5 112,353.5 C110.67,352.5 110.17,349.17 111,348Z" fill="#f6f9fd" opacity="0.9"/>
</g>
<rect x="169.7" y="334.4" width="126.1" height="93.2" filter="url(#tf13)" />
<rect x="169.7" y="334.4" width="126.1" height="93.2" filter="url(#cn14)"/>
<rect x="169.7" y="334.4" width="126.1" height="93.2" filter="url(#sf15)" opacity="1"/>
<rect x="297.8" y="334.4" width="125.2" height="93.2" filter="url(#tf16)" />
<rect x="297.8" y="334.4" width="125.2" height="93.2" filter="url(#cn17)"/>
<rect x="297.8" y="334.4" width="125.2" height="93.2" filter="url(#sf18)" opacity="1"/>
<rect x="297.8" y="334.4" width="125.2" height="93.2" filter="url(#sf19)" opacity="0.6"/>
<g filter="url(#rough)">
<ellipse cx="185" cy="340.35" rx="7" ry="3.95" fill="#f3f7fc" opacity="0.9" transform="rotate(0 185 340.35)"/>
<ellipse cx="232.85" cy="342.65" rx="5.55" ry="5.65" fill="#f3f7fc" opacity="0.9" transform="rotate(0 232.85 342.65)"/>
<ellipse cx="250.35" cy="346.75" rx="2.35" ry="3.25" fill="#f3f7fc" opacity="0.9" transform="rotate(0 250.35 346.75)"/>
<ellipse cx="273.5" cy="370.5" rx="7.5" ry="7.5" fill="#f3f7fc" opacity="0.9" transform="rotate(0 273.5 370.5)"/>
<ellipse cx="288.75" cy="382.5" rx="6.75" ry="11.5" fill="#f3f7fc" opacity="0.9" transform="rotate(0 288.75 382.5)"/>
<ellipse cx="195.4" cy="366.6" rx="6.4" ry="5.6" fill="#f3f7fc" opacity="0.9" transform="rotate(0 195.4 366.6)"/>
<ellipse cx="185.1" cy="382.5" rx="5.6" ry="4" fill="#f3f7fc" opacity="0.9" transform="rotate(0 185.1 382.5)"/>
<ellipse cx="230.4" cy="398.5" rx="6.4" ry="5.5" fill="#f3f7fc" opacity="0.9" transform="rotate(0 230.4 398.5)"/>
<ellipse cx="226.5" cy="415" rx="13.5" ry="8" fill="#f3f7fc" opacity="0.9" transform="rotate(0 226.5 415)"/>
<ellipse cx="271.85" cy="403.2" rx="6.35" ry="5.6" fill="#f3f7fc" opacity="0.9" transform="rotate(0 271.85 403.2)"/>
<ellipse cx="196.25" cy="414.35" rx="5.55" ry="3.95" fill="#f3f7fc" opacity="0.9" transform="rotate(0 196.25 414.35)"/>
<ellipse cx="332" cy="420.3" rx="16" ry="7.3" fill="#f3f7fc" opacity="0.9" transform="rotate(0 332 420.3)"/>
<ellipse cx="402" cy="365" rx="6" ry="7" fill="#f3f7fc" opacity="0.9" transform="rotate(0 402 365)"/>
<ellipse cx="301.9" cy="356.3" rx="4.1" ry="6.3" fill="#f3f7fc" opacity="0.9" transform="rotate(0 301.9 356.3)"/>
<ellipse cx="331.4" cy="354.75" rx="5.4" ry="4.75" fill="#f3f7fc" opacity="0.9" transform="rotate(0 331.4 354.75)"/>
<ellipse cx="359.85" cy="343.55" rx="5.55" ry="4.75" fill="#f3f7fc" opacity="0.9" transform="rotate(0 359.85 343.55)"/>
<ellipse cx="416" cy="386.5" rx="7" ry="6.5" fill="#f3f7fc" opacity="0.9" transform="rotate(0 416 386.5)"/>
<ellipse cx="367" cy="392" rx="3" ry="4" fill="#f3f7fc" opacity="0.9" transform="rotate(0 367 392)"/>
<ellipse cx="409" cy="339.2" rx="14" ry="4.8" fill="#f3f7fc" opacity="0.9" transform="rotate(0 409 339.2)"/>
</g>
<rect x="167.5" y="236" width="2" height="193" fill="#ffffff" />
<rect x="295.5" y="236" width="2.2" height="193" fill="#ffffff" />
<rect x="40" y="332.7" width="384" height="1.7" fill="#ffffff" />
<rect x="77.2" y="250.7" width="30.4" height="27" fill="none" stroke="#111" stroke-width="1"/>
<line x1="77.2" y1="277.7" x2="41" y2="333.4" stroke="#111" stroke-width="1" />
<line x1="107.6" y1="277.7" x2="167.4" y2="333.4" stroke="#111" stroke-width="1" />
<rect x="200.2" y="284.3" width="29.8" height="27.6" fill="none" stroke="#111" stroke-width="1"/>
<line x1="200.2" y1="311.9" x2="169.5" y2="333.2" stroke="#111" stroke-width="1" />
<line x1="230" y1="311.9" x2="295" y2="333.2" stroke="#111" stroke-width="1" />
<rect x="354.5" y="269.7" width="29.9" height="27.3" fill="none" stroke="#111" stroke-width="1"/>
<line x1="354.5" y1="297" x2="297.9" y2="333.2" stroke="#111" stroke-width="1" />
<line x1="384.4" y1="297" x2="423" y2="333.2" stroke="#111" stroke-width="1" />
<line x1="399.6" y1="322.8" x2="418.9" y2="322.8" stroke="#111" stroke-width="1.6" />
<text x="409.25" y="320.6" font-size="6.6" text-anchor="middle" fill="#111"  stroke="#111" stroke-width="0.13">100 μm</text>
<line x1="398.9" y1="420.1" x2="418.8" y2="420.1" stroke="#111" stroke-width="1.6" />
<text x="408.85" y="417.9" font-size="6.8" text-anchor="middle" fill="#111"  stroke="#111" stroke-width="0.13">20 μm</text>
<line x1="90.5" y1="411.3" x2="87.75" y2="404.92" stroke="#111" stroke-width="1.1" />
<path d="M86.4,401.8 L89.31,404.25 L86.19,405.6 Z" fill="#111"/>
<line x1="123.8" y1="417.4" x2="121.36" y2="411.82" stroke="#111" stroke-width="1.1" />
<path d="M120,408.7 L122.92,411.14 L119.8,412.5 Z" fill="#111"/>
<line x1="239.3" y1="390" x2="236.67" y2="384.01" stroke="#111" stroke-width="1.1" />
<path d="M235.3,380.9 L238.22,383.33 L235.11,384.7 Z" fill="#111"/>
<line x1="362.9" y1="401.3" x2="359.88" y2="395.06" stroke="#111" stroke-width="1.1" />
<path d="M358.4,392 L361.41,394.32 L358.35,395.8 Z" fill="#111"/>
<line x1="336.8" y1="424.8" x2="334.01" y2="419.6" stroke="#111" stroke-width="1.1" />
<path d="M332.4,416.6 L335.51,418.79 L332.51,420.4 Z" fill="#111"/>
<text x="101.3" y="436.7" font-size="7.5" text-anchor="middle" fill="#1a1a1a"  stroke="#1a1a1a" stroke-width="0.13">H37Rv</text>
<text x="225.6" y="436.8" font-size="7.5" text-anchor="middle" fill="#1a1a1a"  stroke="#1a1a1a" stroke-width="0.13">H37RvΔPE12</text>
<text x="360.4" y="436.8" font-size="7.5" text-anchor="middle" fill="#1a1a1a"  stroke="#1a1a1a" stroke-width="0.13">H37RvΔPE12::PE12</text>
<text x="29" y="451.4" font-size="11" text-anchor="start" fill="#1a1a1a"  stroke="#1a1a1a" stroke-width="0.2">F</text>
<text x="10.3" y="480.7" font-size="9" text-anchor="start" fill="#1a1a1a"  stroke="#1a1a1a" stroke-width="0.16">100×</text>
<text x="10.3" y="525.3" font-size="9" text-anchor="start" fill="#1a1a1a"  stroke="#1a1a1a" stroke-width="0.16">200×</text>
<rect x="42" y="455.2" width="64.3" height="42" fill="#fbf7fa" />
<rect x="42" y="455.2" width="64.3" height="42" filter="url(#nf20)" />
<rect x="107.7" y="455.2" width="64.2" height="42" filter="url(#tf21)" />
<rect x="107.7" y="455.2" width="64.2" height="42" filter="url(#sf22)" opacity="1"/>
<rect x="107.7" y="455.2" width="64.2" height="42" filter="url(#sf23)" opacity="0.85"/>
<rect x="173.8" y="455.2" width="63" height="42" filter="url(#tf24)" />
<rect x="173.8" y="455.2" width="63" height="42" filter="url(#sf25)" opacity="1"/>
<rect x="173.8" y="455.2" width="63" height="42" filter="url(#sf26)" opacity="0.85"/>
<rect x="238.2" y="455.2" width="63.9" height="42" filter="url(#tf27)" />
<rect x="238.2" y="455.2" width="63.9" height="42" filter="url(#sf28)" opacity="1"/>
<rect x="238.2" y="455.2" width="63.9" height="42" filter="url(#sf29)" opacity="0.85"/>
<rect x="42" y="498.5" width="64.3" height="40.4" fill="#fbf7fa" />
<rect x="42" y="498.5" width="64.3" height="40.4" filter="url(#nf30)" />
<rect x="107.7" y="498.5" width="64.2" height="40.4" filter="url(#tf31)" />
<rect x="107.7" y="498.5" width="64.2" height="40.4" filter="url(#sf32)" opacity="1"/>
<rect x="107.7" y="498.5" width="64.2" height="40.4" filter="url(#sf33)" opacity="0.85"/>
<rect x="173.8" y="498.5" width="63" height="40.4" filter="url(#tf34)" />
<rect x="173.8" y="498.5" width="63" height="40.4" filter="url(#sf35)" opacity="1"/>
<rect x="173.8" y="498.5" width="63" height="40.4" filter="url(#sf36)" opacity="0.85"/>
<rect x="238.2" y="498.5" width="63.9" height="40.4" filter="url(#tf37)" />
<rect x="238.2" y="498.5" width="63.9" height="40.4" filter="url(#sf38)" opacity="1"/>
<rect x="238.2" y="498.5" width="63.9" height="40.4" filter="url(#sf39)" opacity="0.85"/>
<path d="M123,474 C123.75,473.03 126.17,472.43 128,472.2 C129.83,471.97 132.42,472.22 134,472.6 C135.58,472.98 137.5,473.77 137.5,474.5 C137.5,475.23 135.25,476.33 134,477 C132.75,477.67 131.33,478 130,478.5 C128.67,479 127.08,480.08 126,480 C124.92,479.92 124,479 123.5,478 C123,477 122.25,474.97 123,474Z" fill="#fcfbfd" opacity="1" filter="url(#soft)"/>
<path d="M111.5,463.5 C111.92,462.58 113.58,462 115,462 C116.42,462 118.75,462.75 120,463.5 C121.25,464.25 122.67,465.88 122.5,466.5 C122.33,467.12 120.08,467.28 119,467.2 C117.92,467.12 117.08,465.95 116,466 C114.92,466.05 113.25,467.92 112.5,467.5 C111.75,467.08 111.08,464.42 111.5,463.5Z" fill="#fcfbfd" opacity="1" filter="url(#soft)"/>
<path d="M160.5,476.5 C161.08,475.92 162.83,475.67 164,476 C165.17,476.33 167.17,477.5 167.5,478.5 C167.83,479.5 166.75,481.58 166,482 C165.25,482.42 163.92,481.42 163,481 C162.08,480.58 160.92,480.25 160.5,479.5 C160.08,478.75 159.92,477.08 160.5,476.5Z" fill="#fcfbfd" opacity="1" filter="url(#soft)"/>
<path d="M158.2,461.2 C158.57,460.63 161,460.45 161.8,460.8 C162.6,461.15 163.37,462.73 163,463.3 C162.63,463.87 160.4,464.55 159.6,464.2 C158.8,463.85 157.83,461.77 158.2,461.2Z" fill="#fcfbfd" opacity="1" filter="url(#soft)"/>
<path d="M148,507.5 C148.67,506.5 150.83,505.33 152.5,505 C154.17,504.67 156.42,505 158,505.5 C159.58,506 161.42,506.83 162,508 C162.58,509.17 161.83,511.08 161.5,512.5 C161.17,513.92 160.83,515.33 160,516.5 C159.17,517.67 157.5,519.67 156.5,519.5 C155.5,519.33 154.92,516.58 154,515.5 C153.08,514.42 151.92,513.75 151,513 C150.08,512.25 149,511.92 148.5,511 C148,510.08 147.33,508.5 148,507.5Z" fill="#fcfbfd" opacity="1" filter="url(#soft)"/>
<path d="M108,526 C108.58,524.67 110.33,524.75 111.5,525 C112.67,525.25 114.5,526.33 115,527.5 C115.5,528.67 115.17,530.75 114.5,532 C113.83,533.25 112.08,534.83 111,535 C109.92,535.17 108.5,534.5 108,533 C107.5,531.5 107.42,527.33 108,526Z" fill="#fcfbfd" opacity="0.9" filter="url(#soft)"/>
<path d="M166,505 C166.67,504.08 169.08,503 170,503.5 C170.92,504 171.75,506.75 171.5,508 C171.25,509.25 169.42,510.83 168.5,511 C167.58,511.17 166.42,510 166,509 C165.58,508 165.33,505.92 166,505Z" fill="#fcfbfd" opacity="0.9" filter="url(#soft)"/>
<path d="M174.5,470 C175.08,468.08 176.92,467.5 178,466.5 C179.08,465.5 180.67,463.42 181,464 C181.33,464.58 180.67,468 180,470 C179.33,472 177.92,474.67 177,476 C176.08,477.33 174.92,479 174.5,478 C174.08,477 173.92,471.92 174.5,470Z" fill="#fcfbfd" opacity="0.9" filter="url(#soft)"/>
<path d="M222,462 C222.67,459.5 224.75,459.17 226,459 C227.25,458.83 229.33,459.17 229.5,461 C229.67,462.83 227.83,467.17 227,470 C226.17,472.83 225.33,477.33 224.5,478 C223.67,478.67 222.42,476.67 222,474 C221.58,471.33 221.33,464.5 222,462Z" fill="#fcfbfd" opacity="0.9" filter="url(#soft)"/>
<path d="M217,520 C217.33,518.67 219.67,516.58 221,516.5 C222.33,516.42 224.67,518.25 225,519.5 C225.33,520.75 224,523.17 223,524 C222,524.83 220,525.17 219,524.5 C218,523.83 216.67,521.33 217,520Z" fill="#fcfbfd" opacity="0.9" filter="url(#soft)"/>
<path d="M172,524 C172.58,521.33 174.92,520.5 176,521 C177.08,521.5 178.5,524.5 178.5,527 C178.5,529.5 177,534.33 176,536 C175,537.67 173.17,539 172.5,537 C171.83,535 171.42,526.67 172,524Z" fill="#fcfbfd" opacity="0.9" filter="url(#soft)"/>
<path d="M238.5,506 C239.25,503.58 241.67,502.83 243,502.5 C244.33,502.17 246.17,502.42 246.5,504 C246.83,505.58 245.75,509.67 245,512 C244.25,514.33 243.08,517.17 242,518 C240.92,518.83 239.08,519 238.5,517 C237.92,515 237.75,508.42 238.5,506Z" fill="#fcfbfd" opacity="0.9" filter="url(#soft)"/>
<path d="M264,466 C264.33,464.92 266.33,463.17 268,462.5 C269.67,461.83 272.67,461.5 274,462 C275.33,462.5 276.5,464.5 276,465.5 C275.5,466.5 272.67,467.42 271,468 C269.33,468.58 267.17,469.33 266,469 C264.83,468.67 263.67,467.08 264,466Z" fill="#fcfbfd" opacity="0.9" filter="url(#soft)"/>
<g filter="url(#rough2)">
<path d="M174.5,461 C174.83,459.5 176.92,458.67 178,459 C179.08,459.33 180.08,461.17 181,463 C181.92,464.83 183.33,467.83 183.5,470 C183.67,472.17 182.83,475.33 182,476 C181.17,476.67 179.5,475.33 178.5,474 C177.5,472.67 176.67,470.17 176,468 C175.33,465.83 174.17,462.5 174.5,461Z" fill="#fcfbfd" opacity="1"/>
<path d="M196.5,457.5 C196.83,456.58 198.92,456.08 200,456.5 C201.08,456.92 202.83,458.83 203,460 C203.17,461.17 201.83,463.17 201,463.5 C200.17,463.83 198.75,463 198,462 C197.25,461 196.17,458.42 196.5,457.5Z" fill="#fcfbfd" opacity="1"/>
<path d="M222,458 C222.58,457.08 224.67,456.5 226,456.5 C227.33,456.5 228.83,456.92 230,458 C231.17,459.08 232.67,461 233,463 C233.33,465 232.67,467.5 232,470 C231.33,472.5 230.08,476.33 229,478 C227.92,479.67 226.33,480.83 225.5,480 C224.67,479.17 224.08,475.33 224,473 C223.92,470.67 225.25,467.83 225,466 C224.75,464.17 223,463.33 222.5,462 C222,460.67 221.42,458.92 222,458Z" fill="#fcfbfd" opacity="1"/>
<path d="M228,486 C228.25,484.92 231,484.08 232,484.5 C233,484.92 234.25,487.42 234,488.5 C233.75,489.58 231.5,491.42 230.5,491 C229.5,490.58 227.75,487.08 228,486Z" fill="#fcfbfd" opacity="1"/>
<path d="M211,513 C211.75,511.75 214.33,510.5 216,510.5 C217.67,510.5 220.25,511.58 221,513 C221.75,514.42 221.5,517.58 220.5,519 C219.5,520.42 216.5,521.67 215,521.5 C213.5,521.33 212.17,519.42 211.5,518 C210.83,516.58 210.25,514.25 211,513Z" fill="#fcfbfd" opacity="1"/>
<path d="M174,502 C174.5,495.83 176.33,498.67 177,500 C177.67,501.33 178.08,506.33 178,510 C177.92,513.67 176.58,518.33 176.5,522 C176.42,525.67 177.92,529.5 177.5,532 C177.08,534.5 174.58,542 174,537 C173.42,532 173.5,508.17 174,502Z" fill="#fcfbfd" opacity="1"/>
<path d="M232,500 C232.72,497.83 236,492.67 236.8,499 C237.6,505.33 237.43,531.67 236.8,538 C236.17,544.33 233.97,539.17 233,537 C232.03,534.83 231.08,529.17 231,525 C230.92,520.83 232.33,516.17 232.5,512 C232.67,507.83 231.28,502.17 232,500Z" fill="#fcfbfd" opacity="1"/>
<path d="M269.5,462.5 C270,461.47 272.25,460.63 274,460.3 C275.75,459.97 278.33,460.05 280,460.5 C281.67,460.95 283.83,461.92 284,463 C284.17,464.08 282.5,466.1 281,467 C279.5,467.9 276.67,468.48 275,468.4 C273.33,468.32 271.92,467.48 271,466.5 C270.08,465.52 269,463.53 269.5,462.5Z" fill="#fcfbfd" opacity="1"/>
<path d="M239,502 C239.67,499 242.33,499.83 244,500 C245.67,500.17 247.67,501.33 249,503 C250.33,504.67 251.08,507.5 252,510 C252.92,512.5 254.5,515.33 254.5,518 C254.5,520.67 253.25,524.17 252,526 C250.75,527.83 248.33,529.5 247,529 C245.67,528.5 245.17,524.83 244,523 C242.83,521.17 240.83,521.5 240,518 C239.17,514.5 238.33,505 239,502Z" fill="#fcfbfd" opacity="1"/>
<path d="M242,470 C242.58,469.08 244.83,467.83 246,468 C247.17,468.17 249,470 249,471 C249,472 247.08,473.58 246,474 C244.92,474.42 243.17,474.17 242.5,473.5 C241.83,472.83 241.42,470.92 242,470Z" fill="#fcfbfd" opacity="1"/>
<path d="M288,470 C288.33,469 290.5,467.67 292,467.5 C293.5,467.33 296.5,468 297,469 C297.5,470 296.17,472.75 295,473.5 C293.83,474.25 291.17,474.08 290,473.5 C288.83,472.92 287.67,471 288,470Z" fill="#fcfbfd" opacity="1"/>
</g>
<rect x="106.3" y="454" width="1.4" height="86" fill="#ffffff" />
<rect x="171.9" y="454" width="1.9" height="86" fill="#ffffff" />
<rect x="236.8" y="454" width="1.4" height="86" fill="#ffffff" />
<rect x="41" y="497.2" width="262" height="1.3" fill="#ffffff" />
<rect x="70.4" y="464.8" width="18.2" height="15.4" fill="none" stroke="#111" stroke-width="1"/>
<line x1="70.4" y1="480.2" x2="42" y2="497.2" stroke="#111" stroke-width="1" />
<line x1="88.6" y1="480.2" x2="106.3" y2="497.2" stroke="#111" stroke-width="1" />
<rect x="152.4" y="473.5" width="18.3" height="15.2" fill="none" stroke="#111" stroke-width="1"/>
<line x1="152.4" y1="488.7" x2="107.7" y2="497.2" stroke="#111" stroke-width="1" />
<line x1="170.7" y1="488.7" x2="171.9" y2="497.2" stroke="#111" stroke-width="1" />
<rect x="202.6" y="466.4" width="12.6" height="12.6" fill="none" stroke="#111" stroke-width="1"/>
<line x1="202.6" y1="479" x2="173.9" y2="497.2" stroke="#111" stroke-width="1" />
<line x1="215.2" y1="479" x2="236.8" y2="497.2" stroke="#111" stroke-width="1" />
<rect x="256.4" y="473.5" width="17.3" height="14.8" fill="none" stroke="#111" stroke-width="1"/>
<line x1="256.4" y1="488.3" x2="238.2" y2="497.2" stroke="#111" stroke-width="1" />
<line x1="273.7" y1="488.3" x2="302.1" y2="497.2" stroke="#111" stroke-width="1" />
<line x1="285.5" y1="489.7" x2="300.3" y2="489.7" stroke="#111" stroke-width="1.6" />
<text x="292.9" y="487.5" font-size="5.2" text-anchor="middle" fill="#111" >200 μm</text>
<line x1="285.5" y1="534.4" x2="300.3" y2="534.4" stroke="#111" stroke-width="1.6" />
<text x="292.9" y="532.2" font-size="5.2" text-anchor="middle" fill="#111" >200 μm</text>
<line x1="125.5" y1="520.8" x2="127.54" y2="518.85" stroke="#111" stroke-width="1.1" />
<path d="M130,516.5 L128.72,520.08 L126.37,517.62 Z" fill="#111"/>
<line x1="123.7" y1="527.8" x2="125.74" y2="525.85" stroke="#111" stroke-width="1.1" />
<path d="M128.2,523.5 L126.92,527.08 L124.57,524.62 Z" fill="#111"/>
<line x1="117.8" y1="532.5" x2="119.84" y2="530.55" stroke="#111" stroke-width="1.1" />
<path d="M122.3,528.2 L121.02,531.78 L118.67,529.32 Z" fill="#111"/>
<line x1="273.3" y1="512.1" x2="275.34" y2="510.15" stroke="#111" stroke-width="1.1" />
<path d="M277.8,507.8 L276.52,511.38 L274.17,508.92 Z" fill="#111"/>
<line x1="255" y1="531.9" x2="257.04" y2="529.95" stroke="#111" stroke-width="1.1" />
<path d="M259.5,527.6 L258.22,531.18 L255.87,528.72 Z" fill="#111"/>
<text x="73.8" y="546.6" font-size="7.8" text-anchor="middle" fill="#1a1a1a"  stroke="#1a1a1a" stroke-width="0.13">PBST</text>
<text x="139.2" y="546.6" font-size="7.4" text-anchor="middle" fill="#1a1a1a"  stroke="#1a1a1a" stroke-width="0.13">H37Rv</text>
<text x="204.9" y="546.6" font-size="7.4" text-anchor="middle" fill="#1a1a1a"  stroke="#1a1a1a" stroke-width="0.13">H37RvΔPE12</text>
<text x="270.5" y="546.6" font-size="7.4" text-anchor="middle" fill="#1a1a1a"  stroke="#1a1a1a" stroke-width="0.13">H37RvΔPE12::PE12</text></svg>
</body></html>
